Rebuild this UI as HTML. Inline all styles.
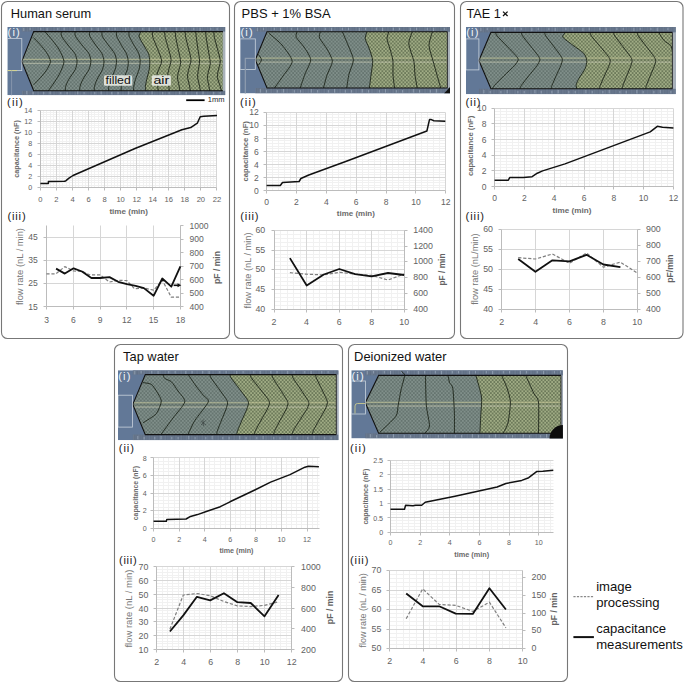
<!DOCTYPE html>
<html><head><meta charset="utf-8"><title>figure</title>
<style>html,body{margin:0;padding:0;background:#fff;}svg{display:block;}</style>
</head><body>
<svg width="685" height="683" viewBox="0 0 685 683" font-family='"Liberation Sans", sans-serif'>
<defs>
<pattern id="dotF" width="3.5" height="3.7" patternUnits="userSpaceOnUse"><rect width="3.5" height="3.7" fill="#788782"/><circle cx="0.875" cy="0.925" r="0.7" fill="#4f5d59"/><circle cx="2.625" cy="2.775" r="0.7" fill="#4f5d59"/><circle cx="2.625" cy="0.925" r="0.6" fill="#8e9c98"/><circle cx="0.875" cy="2.775" r="0.6" fill="#8e9c98"/></pattern>
<pattern id="dotA" width="3.5" height="3.7" patternUnits="userSpaceOnUse"><rect width="3.5" height="3.7" fill="#9aa67f"/><circle cx="0.875" cy="0.925" r="0.72" fill="#34422a"/><circle cx="2.625" cy="2.775" r="0.72" fill="#34422a"/><circle cx="2.625" cy="0.925" r="0.6" fill="#aab690"/><circle cx="0.875" cy="2.775" r="0.6" fill="#aab690"/></pattern>
<pattern id="bandS" width="5.3" height="6" patternUnits="userSpaceOnUse"><rect x="0.6" width="0.7" height="6" fill="#a4b0c0" opacity="0.35"/><rect x="3.2" width="0.6" height="6" fill="#a4b0c0" opacity="0.22"/></pattern>
</defs>
<rect width="685" height="683" fill="#fff"/>
<rect x="1.5" y="1.5" width="228" height="337" rx="6" ry="6" fill="none" stroke="#777" stroke-width="1.1"/>
<rect x="234.5" y="1.5" width="220" height="337" rx="6" ry="6" fill="none" stroke="#777" stroke-width="1.1"/>
<rect x="460.5" y="1.5" width="222.5" height="337" rx="6" ry="6" fill="none" stroke="#777" stroke-width="1.1"/>
<rect x="114.5" y="344.5" width="228" height="337" rx="6" ry="6" fill="none" stroke="#777" stroke-width="1.1"/>
<rect x="348.5" y="344.5" width="219" height="337" rx="6" ry="6" fill="none" stroke="#777" stroke-width="1.1"/>
<text x="10.8" y="18.2" font-size="12.9" fill="#111" textLength="80.3" lengthAdjust="spacingAndGlyphs" >Human serum</text>
<text x="241.6" y="18.4" font-size="12.9" fill="#111" textLength="89.1" lengthAdjust="spacingAndGlyphs" >PBS + 1% BSA</text>
<text x="466.4" y="18.1" font-size="12.9" fill="#111" textLength="34.4" lengthAdjust="spacingAndGlyphs" >TAE 1</text>
<text x="123.1" y="360.9" font-size="12.9" fill="#111" textLength="55.7" lengthAdjust="spacingAndGlyphs" >Tap water</text>
<text x="354.1" y="361.2" font-size="12.9" fill="#111" textLength="92.5" lengthAdjust="spacingAndGlyphs" >Deionized water</text>
<path d="M503,11.6 L507.6,16 M507.6,11.6 L503,16" stroke="#111" stroke-width="1.3"/>
<clipPath id="clipI0"><rect x="7.3" y="26.9" width="218.1" height="68.3"/></clipPath>
<g clip-path="url(#clipI0)">
<rect x="7.3" y="26.9" width="218.1" height="68.3" fill="#627897"/>
<rect x="21.8" y="26.9" width="203.6" height="4.7" fill="#617086"/>
<rect x="21.8" y="90.8" width="203.6" height="4.4" fill="#617086"/>
<rect x="21.8" y="26.9" width="203.6" height="4.7" fill="url(#bandS)"/>
<rect x="21.8" y="90.8" width="203.6" height="4.4" fill="url(#bandS)"/>
<path d="M23.8,27.7v3.5M26.8,94.4v-3.5M30.1,27.7v2.5M33.1,94.4v-2.5M40.8,27.7v2.5M43.8,94.4v-2.5M47.1,27.7v3.5M50.1,94.4v-3.5M57.8,27.7v2.5M60.8,94.4v-2.5M64.1,27.7v2.5M67.1,94.4v-2.5M74.8,27.7v3.5M77.8,94.4v-3.5M81.1,27.7v2.5M84.1,94.4v-2.5M91.8,27.7v2.5M94.8,94.4v-2.5M98.1,27.7v3.5M101.1,94.4v-3.5M108.8,27.7v2.5M111.8,94.4v-2.5M115.1,27.7v2.5M118.1,94.4v-2.5M125.8,27.7v3.5M128.8,94.4v-3.5M132.1,27.7v2.5M135.1,94.4v-2.5M142.8,27.7v2.5M145.8,94.4v-2.5M149.1,27.7v3.5M152.1,94.4v-3.5M159.8,27.7v2.5M162.8,94.4v-2.5M166.1,27.7v2.5M169.1,94.4v-2.5M176.8,27.7v3.5M179.8,94.4v-3.5M183.1,27.7v2.5M186.1,94.4v-2.5M193.8,27.7v2.5M196.8,94.4v-2.5M200.1,27.7v3.5M203.1,94.4v-3.5M210.8,27.7v2.5M213.8,94.4v-2.5M217.1,27.7v2.5M220.1,94.4v-2.5" stroke="#9aa8ba" stroke-width="0.8" fill="none"/>
<polygon points="21.8,61.4 33.7,31.6 222.9,31.6 222.9,90.8 33.7,90.8" fill="url(#dotA)"/>
<polygon points="21.8,61.4 33.7,31.6 141,31.6 138.98,36.37 143.6,45.01 148.57,53.65 149.8,61.4 149.18,69.63 146.7,79.63 145.43,86.39 145.9,90.8 33.7,90.8" fill="url(#dotF)"/>
<rect x="21.8" y="59.3" width="201.1" height="4" fill="#55604f" opacity="0.18"/>
<line x1="21.8" y1="59.3" x2="222.9" y2="59.3" stroke="#d6d6a4" stroke-width="0.8" opacity="0.85"/>
<line x1="21.8" y1="63.3" x2="222.9" y2="63.3" stroke="#d2d3bb" stroke-width="0.8" opacity="0.85"/>
<path d="M33.4,37.5 C34.2,38.34 38.72,42.94 40.24,44.67 C41.76,46.4 45.2,50.37 46.4,52.32 C47.59,54.27 50.49,59.31 50.5,61.4 C50.51,63.49 47.64,68.35 46.47,70.25 C45.29,72.16 41.91,76.02 40.42,77.71 C38.93,79.4 34.48,83.88 33.7,84.7" fill="none" stroke="#1c2418" stroke-width="0.9"/>
<path d="M45,31.6 C45.89,32.64 50.92,38.38 52.6,40.54 C54.28,42.7 58.11,47.64 59.44,50.08 C60.77,52.51 63.91,58.78 64,61.4 C64.09,64.02 61.33,70.17 60.23,72.57 C59.13,74.97 55.97,79.85 54.58,81.98 C53.19,84.11 49.03,89.77 48.3,90.8" fill="none" stroke="#1c2418" stroke-width="0.9"/>
<path d="M61.3,31.6 C61.34,32.16 60.84,34.8 61.62,36.37 C62.39,37.93 66.39,42.99 67.94,45.01 C69.48,47.03 73.82,51.74 74.89,53.65 C75.96,55.56 77.06,59.54 77.1,61.4 C77.14,63.26 76.2,67.51 75.21,69.63 C74.22,71.76 69.72,77.67 68.6,79.63 C67.49,81.58 66.04,85.09 65.65,86.39 C65.27,87.69 65.34,90.29 65.3,90.8" fill="none" stroke="#1c2418" stroke-width="0.9"/>
<path d="M75.1,31.6 C75.14,32.15 74.64,34.74 75.42,36.27 C76.19,37.8 80.19,42.76 81.74,44.74 C83.28,46.72 87.62,51.33 88.69,53.21 C89.76,55.08 90.85,58.93 90.9,60.8 C90.95,62.67 90.05,67.03 89.11,69.2 C88.17,71.37 83.89,77.41 82.84,79.4 C81.78,81.4 80.4,84.97 80.04,86.3 C79.67,87.63 79.74,90.27 79.7,90.8" fill="none" stroke="#1c2418" stroke-width="0.9"/>
<path d="M89.6,31.6 C89.63,32.16 89.18,34.8 89.89,36.37 C90.59,37.93 94.24,42.99 95.65,45.01 C97.06,47.03 101.01,51.74 101.98,53.65 C102.96,55.56 103.95,59.54 104,61.4 C104.05,63.26 103.26,67.51 102.43,69.63 C101.61,71.76 97.87,77.67 96.94,79.63 C96.02,81.58 94.81,85.09 94.49,86.39 C94.17,87.69 94.23,90.29 94.2,90.8" fill="none" stroke="#1c2418" stroke-width="0.9"/>
<path d="M102,31.6 C102.03,32.15 101.58,34.74 102.29,36.27 C103,37.8 106.67,42.76 108.09,44.74 C109.51,46.72 113.49,51.33 114.47,53.21 C115.45,55.08 116.41,58.93 116.5,60.8 C116.59,62.67 115.9,67.03 115.24,69.2 C114.57,71.37 111.56,77.41 110.81,79.4 C110.07,81.4 109.1,84.97 108.84,86.3 C108.58,87.63 108.63,90.27 108.6,90.8" fill="none" stroke="#1c2418" stroke-width="0.9"/>
<path d="M116.5,31.6 C116.53,32.17 116.16,34.88 116.74,36.48 C117.31,38.08 120.3,43.26 121.46,45.33 C122.61,47.39 125.85,52.21 126.65,54.17 C127.45,56.13 128.24,60.24 128.3,62.1 C128.36,63.96 127.75,68.06 127.15,70.14 C126.54,72.21 123.8,77.99 123.12,79.89 C122.44,81.8 121.55,85.22 121.32,86.5 C121.08,87.77 121.13,90.3 121.1,90.8" fill="none" stroke="#1c2418" stroke-width="0.9"/>
<path d="M129,31.6 C129.03,32.15 128.68,34.74 129.22,36.27 C129.77,37.8 132.61,42.76 133.7,44.74 C134.8,46.72 137.87,51.33 138.63,53.21 C139.39,55.08 140.14,58.93 140.2,60.8 C140.26,62.67 139.7,67.03 139.14,69.2 C138.59,71.37 136.07,77.41 135.45,79.4 C134.82,81.4 134.01,84.97 133.8,86.3 C133.58,87.63 133.62,90.27 133.6,90.8" fill="none" stroke="#1c2418" stroke-width="0.9"/>
<path d="M152.3,31.6 C152.37,32.29 152.3,35.49 152.9,37.48 C153.5,39.47 156.44,45.91 157.47,48.65 C158.5,51.4 161.65,58.34 161.7,61 C161.75,63.66 158.47,69.52 157.88,71.43 C157.28,73.34 156.64,75.83 156.6,77.39 C156.56,78.95 157.37,83.28 157.56,84.84 C157.75,86.4 158.13,90.1 158.2,90.8" fill="none" stroke="#1c2418" stroke-width="0.9"/>
<path d="M164.6,31.6 C164.67,32.26 164.78,35.33 165.2,37.24 C165.62,39.15 167.49,45.32 168.17,47.96 C168.86,50.59 171.06,57.15 171.1,59.8 C171.13,62.45 168.88,68.66 168.47,70.65 C168.07,72.64 167.58,75.22 167.6,76.85 C167.62,78.48 168.42,82.97 168.62,84.6 C168.82,86.23 169.22,90.08 169.3,90.8" fill="none" stroke="#1c2418" stroke-width="0.9"/>
<path d="M175.2,31.6 C175.27,32.31 175.45,35.65 175.8,37.72 C176.15,39.79 177.65,46.49 178.22,49.35 C178.8,52.2 180.69,59.53 180.7,62.2 C180.71,64.87 178.67,70.37 178.3,72.21 C177.93,74.05 177.43,76.43 177.5,77.93 C177.57,79.43 178.66,83.58 178.94,85.08 C179.22,86.58 179.79,90.13 179.9,90.8" fill="none" stroke="#1c2418" stroke-width="0.9"/>
<path d="M185.1,31.6 C185.17,32.26 185.32,35.33 185.7,37.24 C186.08,39.15 187.73,45.32 188.34,47.96 C188.96,50.59 191,57.15 191,59.8 C191,62.45 188.78,68.66 188.38,70.65 C187.97,72.64 187.4,75.22 187.5,76.85 C187.6,78.48 188.9,82.97 189.24,84.6 C189.58,86.23 190.26,90.08 190.4,90.8" fill="none" stroke="#1c2418" stroke-width="0.9"/>
<path d="M195.7,31.6 C195.77,32.29 196.05,35.49 196.3,37.48 C196.55,39.47 197.46,45.91 197.84,48.65 C198.23,51.4 199.57,58.34 199.6,61 C199.63,63.66 198.33,69.52 198.1,71.43 C197.87,73.34 197.46,75.83 197.6,77.39 C197.74,78.95 198.95,83.28 199.28,84.84 C199.61,86.4 200.27,90.1 200.4,90.8" fill="none" stroke="#1c2418" stroke-width="0.9"/>
<path d="M205.6,31.6 C205.67,32.33 205.9,35.76 206.2,37.88 C206.5,40 207.71,46.88 208.19,49.81 C208.66,52.74 210.31,60.33 210.3,63 C210.29,65.67 208.46,70.95 208.12,72.73 C207.79,74.51 207.32,76.83 207.4,78.29 C207.48,79.75 208.51,83.78 208.78,85.24 C209.05,86.7 209.59,90.15 209.7,90.8" fill="none" stroke="#1c2418" stroke-width="0.9"/>
<path d="M213.8,31.6 C213.87,32.29 213.98,35.49 214.4,37.48 C214.82,39.47 216.69,45.91 217.38,48.65 C218.06,51.4 220.22,58.34 220.3,61 C220.38,63.66 218.4,69.52 218.05,71.43 C217.7,73.34 217.1,75.83 217.3,77.39 C217.5,78.95 219.28,83.28 219.76,84.84 C220.24,86.4 221.21,90.1 221.4,90.8" fill="none" stroke="#1c2418" stroke-width="0.9"/>
<path d="M141,31.6 C140.76,32.16 138.67,34.8 138.98,36.37 C139.28,37.93 142.48,42.99 143.6,45.01 C144.72,47.03 147.84,51.74 148.57,53.65 C149.29,55.56 149.73,59.54 149.8,61.4 C149.87,63.26 149.54,67.51 149.18,69.63 C148.81,71.76 147.14,77.67 146.7,79.63 C146.26,81.58 145.53,85.09 145.43,86.39 C145.34,87.69 145.85,90.29 145.9,90.8" fill="none" stroke="#1c2418" stroke-width="0.9"/>
<rect x="222.9" y="31.6" width="2.5" height="59.2" fill="#a9b1b9"/>
<polyline points="222.9,31.6 33.7,31.6 21.8,61.4 33.7,90.8 222.9,90.8" fill="none" stroke="#111" stroke-width="1.1"/>
<rect x="7.3" y="38.6" width="14.5" height="32" fill="none" stroke="#c9d2dd" stroke-width="0.8"/>
<line x1="7.3" y1="70.6" x2="17" y2="70.6" stroke="#d6d690" stroke-width="1"/>
<path d="M11.6,70.6 V96" stroke="#8696ad" stroke-width="1"/>
</g>
<text x="7.52" y="36.45" font-size="11.2" fill="#eef2f8" textLength="12.26" lengthAdjust="spacing" >(i)</text>
<clipPath id="clipI1"><rect x="240.1" y="26.9" width="209.9" height="66.5"/></clipPath>
<g clip-path="url(#clipI1)">
<rect x="240.1" y="26.9" width="209.9" height="66.5" fill="#627897"/>
<rect x="255.3" y="26.9" width="194.7" height="4.9" fill="#617086"/>
<rect x="255.3" y="88" width="194.7" height="5.4" fill="#617086"/>
<rect x="255.3" y="26.9" width="194.7" height="4.9" fill="url(#bandS)"/>
<rect x="255.3" y="88" width="194.7" height="5.4" fill="url(#bandS)"/>
<path d="M257.3,27.7v3.5M260.3,92.6v-3.5M263.6,27.7v2.5M266.6,92.6v-2.5M274.3,27.7v2.5M277.3,92.6v-2.5M280.6,27.7v3.5M283.6,92.6v-3.5M291.3,27.7v2.5M294.3,92.6v-2.5M297.6,27.7v2.5M300.6,92.6v-2.5M308.3,27.7v3.5M311.3,92.6v-3.5M314.6,27.7v2.5M317.6,92.6v-2.5M325.3,27.7v2.5M328.3,92.6v-2.5M331.6,27.7v3.5M334.6,92.6v-3.5M342.3,27.7v2.5M345.3,92.6v-2.5M348.6,27.7v2.5M351.6,92.6v-2.5M359.3,27.7v3.5M362.3,92.6v-3.5M365.6,27.7v2.5M368.6,92.6v-2.5M376.3,27.7v2.5M379.3,92.6v-2.5M382.6,27.7v3.5M385.6,92.6v-3.5M393.3,27.7v2.5M396.3,92.6v-2.5M399.6,27.7v2.5M402.6,92.6v-2.5M410.3,27.7v3.5M413.3,92.6v-3.5M416.6,27.7v2.5M419.6,92.6v-2.5M427.3,27.7v2.5M430.3,92.6v-2.5M433.6,27.7v3.5M436.6,92.6v-3.5M444.3,27.7v2.5M447.3,92.6v-2.5" stroke="#9aa8ba" stroke-width="0.8" fill="none"/>
<polygon points="255.3,59.8 267,31.8 447.4,31.8 447.4,88 267,88" fill="url(#dotA)"/>
<polygon points="255.3,59.8 267,31.8 366.9,32 365.2,38.8 369,48 372.7,60.6 371,75 369.4,88 267,88" fill="url(#dotF)"/>
<rect x="255.3" y="58.1" width="192.1" height="4" fill="#55604f" opacity="0.18"/>
<line x1="255.3" y1="58.1" x2="447.4" y2="58.1" stroke="#d6d6a4" stroke-width="0.8" opacity="0.85"/>
<line x1="255.3" y1="62.1" x2="447.4" y2="62.1" stroke="#d2d3bb" stroke-width="0.8" opacity="0.85"/>
<path d="M258.5,54.5 C258.85,55.12 261.5,58.57 261.5,59.8 C261.5,61.02 258.85,64.39 258.5,65" fill="none" stroke="#1c2418" stroke-width="0.9"/>
<path d="M268.9,33.2 C270.43,34.58 279.28,41.72 282,45 C284.72,48.28 292.08,57.68 292.2,61.3 C292.32,64.92 285.06,72.89 283,76 C280.94,79.11 275.49,86.6 274.5,88" fill="none" stroke="#1c2418" stroke-width="0.9"/>
<path d="M297,31.8 C296.91,32.44 295.38,35.53 296.2,37.3 C297.02,39.07 302.31,44.39 304,47 C305.69,49.61 310.58,56.55 310.7,59.7 C310.82,62.85 306.23,70.7 305,74 C303.77,77.3 300.76,86.37 300.2,88" fill="none" stroke="#1c2418" stroke-width="0.9"/>
<path d="M320.3,31.8 C320.21,32.52 318.72,35.99 319.5,38 C320.28,40.01 325.5,46.28 327,49 C328.5,51.72 332.4,58.27 332.4,61.3 C332.4,64.33 328.04,71.89 327,75 C325.96,78.11 323.91,86.48 323.5,88" fill="none" stroke="#1c2418" stroke-width="0.9"/>
<path d="M342.5,32 C343.14,33.52 346.73,41.76 348,45 C349.27,48.24 353.28,56.42 353.4,59.8 C353.52,63.18 349.78,70.71 349,74 C348.22,77.29 346.97,86.37 346.7,88" fill="none" stroke="#1c2418" stroke-width="0.9"/>
<path d="M388.7,32 C388.5,32.79 386.85,36.82 387,38.8 C387.15,40.78 389.31,46.46 390,49 C390.69,51.54 392.55,57.57 392.9,60.6 C393.25,63.63 392.8,71.8 393,75 C393.2,78.2 394.41,86.48 394.6,88" fill="none" stroke="#1c2418" stroke-width="0.9"/>
<path d="M412.2,32 C411.8,33.38 408.6,40.37 408.8,43.8 C409,47.23 413.18,57.76 413.9,61.4 C414.62,65.04 414.62,71.9 415,75 C415.38,78.1 416.94,86.48 417.2,88" fill="none" stroke="#1c2418" stroke-width="0.9"/>
<path d="M432.3,32 C431.92,33.58 428.89,42.07 429,45.5 C429.11,48.93 432.27,57.96 433.2,61.4 C434.13,64.84 436.12,71.9 437,75 C437.88,78.1 440.27,86.48 440.7,88" fill="none" stroke="#1c2418" stroke-width="0.9"/>
<path d="M366.9,32 C366.7,32.79 364.95,36.93 365.2,38.8 C365.44,40.67 368.12,45.46 369,48 C369.88,50.54 372.47,57.45 372.7,60.6 C372.93,63.75 371.38,71.8 371,75 C370.62,78.2 369.59,86.48 369.4,88" fill="none" stroke="#1c2418" stroke-width="0.9"/>
<rect x="447.4" y="31.8" width="2.6" height="56.2" fill="#a9b1b9"/>
<polyline points="447.4,31.8 267,31.8 255.3,59.8 267,88 447.4,88" fill="none" stroke="#111" stroke-width="1.1"/>
<line x1="447.4" y1="31.8" x2="447.4" y2="88" stroke="#222" stroke-width="0.9"/>
<rect x="240" y="38.9" width="15.3" height="30.5" fill="none" stroke="#c9d2dd" stroke-width="0.8"/>
<path d="M255.3,58.3 L245.3,58.3 L245.3,94" fill="none" stroke="#8f9db0" stroke-width="1.2"/>
<polygon points="444,93.4 450,87 450,93.4" fill="#111"/>
</g>
<text x="240.42" y="36.35" font-size="11.2" fill="#eef2f8" textLength="12.26" lengthAdjust="spacing" >(i)</text>
<clipPath id="clipI2"><rect x="466" y="26.9" width="209.8" height="67.3"/></clipPath>
<g clip-path="url(#clipI2)">
<rect x="466" y="26.9" width="209.8" height="67.3" fill="#627897"/>
<rect x="478.9" y="26.9" width="196.9" height="5.5" fill="#617086"/>
<rect x="478.9" y="88.8" width="196.9" height="5.4" fill="#617086"/>
<rect x="478.9" y="26.9" width="196.9" height="5.5" fill="url(#bandS)"/>
<rect x="478.9" y="88.8" width="196.9" height="5.4" fill="url(#bandS)"/>
<path d="M480.9,27.7v3.5M483.9,93.4v-3.5M487.2,27.7v2.5M490.2,93.4v-2.5M497.9,27.7v2.5M500.9,93.4v-2.5M504.2,27.7v3.5M507.2,93.4v-3.5M514.9,27.7v2.5M517.9,93.4v-2.5M521.2,27.7v2.5M524.2,93.4v-2.5M531.9,27.7v3.5M534.9,93.4v-3.5M538.2,27.7v2.5M541.2,93.4v-2.5M548.9,27.7v2.5M551.9,93.4v-2.5M555.2,27.7v3.5M558.2,93.4v-3.5M565.9,27.7v2.5M568.9,93.4v-2.5M572.2,27.7v2.5M575.2,93.4v-2.5M582.9,27.7v3.5M585.9,93.4v-3.5M589.2,27.7v2.5M592.2,93.4v-2.5M599.9,27.7v2.5M602.9,93.4v-2.5M606.2,27.7v3.5M609.2,93.4v-3.5M616.9,27.7v2.5M619.9,93.4v-2.5M623.2,27.7v2.5M626.2,93.4v-2.5M633.9,27.7v3.5M636.9,93.4v-3.5M640.2,27.7v2.5M643.2,93.4v-2.5M650.9,27.7v2.5M653.9,93.4v-2.5M657.2,27.7v3.5M660.2,93.4v-3.5M667.9,27.7v2.5M670.9,93.4v-2.5" stroke="#9aa8ba" stroke-width="0.8" fill="none"/>
<polygon points="478.9,60.5 490.9,32.4 672.4,32.4 672.4,88.8 490.9,88.8" fill="url(#dotA)"/>
<polygon points="478.9,60.5 490.9,32.4 565.5,32.6 562.73,37.08 572.85,45.2 583.82,53.32 586.8,60.6 585.2,68.5 579.15,78.08 576.2,84.57 576.8,88.8 490.9,88.8" fill="url(#dotF)"/>
<rect x="478.9" y="58.1" width="193.5" height="4" fill="#55604f" opacity="0.18"/>
<line x1="478.9" y1="58.1" x2="672.4" y2="58.1" stroke="#d6d6a4" stroke-width="0.8" opacity="0.85"/>
<line x1="478.9" y1="62.1" x2="672.4" y2="62.1" stroke="#d2d3bb" stroke-width="0.8" opacity="0.85"/>
<path d="M495.7,32.6 C495.86,32.98 495.74,34.27 497.05,35.85 C498.36,37.43 504.75,43.84 506.95,46.15 C509.16,48.46 514.64,54.05 515.95,55.64 C517.26,57.22 518.36,58.55 518.2,59.7 C518.04,60.85 516.25,63.65 514.6,65.52 C512.95,67.39 506.4,73.4 504.06,75.7 C501.73,78.01 495.91,83.78 494.56,85.31 C493.21,86.84 492.74,88.39 492.5,88.8" fill="none" stroke="#1c2418" stroke-width="0.9"/>
<path d="M521.4,32.6 C521.53,32.98 521.43,34.27 522.51,35.85 C523.59,37.43 528.84,43.84 530.65,46.15 C532.46,48.46 536.97,54.05 538.05,55.64 C539.13,57.22 540.01,58.55 539.9,59.7 C539.79,60.85 538.38,63.65 537.09,65.52 C535.8,67.39 530.67,73.4 528.84,75.7 C527.02,78.01 522.46,83.78 521.41,85.31 C520.35,86.84 519.99,88.39 519.8,88.8" fill="none" stroke="#1c2418" stroke-width="0.9"/>
<path d="M544.7,32.6 C544.82,32.98 544.73,34.27 545.76,35.85 C546.79,37.43 551.82,43.84 553.55,46.15 C555.28,48.46 559.6,54.05 560.63,55.64 C561.66,57.22 562.38,58.55 562.4,59.7 C562.42,60.85 561.54,63.65 560.82,65.52 C560.09,67.39 557.21,73.4 556.18,75.7 C555.16,78.01 552.6,83.78 552,85.31 C551.41,86.84 551.21,88.39 551.1,88.8" fill="none" stroke="#1c2418" stroke-width="0.9"/>
<path d="M590.2,32.6 C590.34,32.99 590.23,34.33 591.41,35.96 C592.58,37.59 598.28,44.22 600.25,46.6 C602.22,48.98 607.12,54.77 608.29,56.4 C609.46,58.03 610.24,59.45 610.3,60.6 C610.36,61.75 609.47,64.43 608.77,66.24 C608.07,68.05 605.3,73.87 604.3,76.11 C603.31,78.35 600.84,83.94 600.27,85.42 C599.7,86.9 599.5,88.41 599.4,88.8" fill="none" stroke="#1c2418" stroke-width="0.9"/>
<path d="M613.7,32.6 C613.83,32.99 613.73,34.33 614.8,35.96 C615.88,37.59 621.1,44.22 622.9,46.6 C624.7,48.98 629.19,54.77 630.26,56.4 C631.33,58.03 632.05,59.45 632.1,60.6 C632.15,61.75 631.34,64.43 630.7,66.24 C630.06,68.05 627.51,73.87 626.6,76.11 C625.69,78.35 623.42,83.94 622.9,85.42 C622.38,86.9 622.19,88.41 622.1,88.8" fill="none" stroke="#1c2418" stroke-width="0.9"/>
<path d="M637.2,32.6 C637.33,32.99 637.23,34.33 638.31,35.96 C639.39,37.59 644.64,44.22 646.45,46.6 C648.26,48.98 652.77,54.77 653.85,56.4 C654.93,58.03 655.65,59.45 655.7,60.6 C655.75,61.75 654.93,64.43 654.29,66.24 C653.64,68.05 651.06,73.87 650.14,76.11 C649.23,78.35 646.94,83.94 646.41,85.42 C645.88,86.9 645.69,88.41 645.6,88.8" fill="none" stroke="#1c2418" stroke-width="0.9"/>
<path d="M659,32.9 C659.58,33.79 662.62,39.03 664,40.5 C665.38,41.97 669.87,44.39 670.8,45.5 C671.73,46.61 671.86,49.48 672,50" fill="none" stroke="#1c2418" stroke-width="0.9"/>
<path d="M565.5,32.6 C565.18,33.12 561.87,35.61 562.73,37.08 C563.59,38.55 570.39,43.31 572.85,45.2 C575.31,47.09 582.19,51.52 583.82,53.32 C585.45,55.12 586.64,58.83 586.8,60.6 C586.96,62.37 586.09,66.46 585.2,68.5 C584.31,70.54 580.2,76.21 579.15,78.08 C578.1,79.96 576.47,83.32 576.2,84.57 C575.93,85.82 576.73,88.31 576.8,88.8" fill="none" stroke="#1c2418" stroke-width="0.9"/>
<rect x="672.4" y="32.4" width="3.4" height="56.4" fill="#a9b1b9"/>
<polyline points="672.4,32.4 490.9,32.4 478.9,60.5 490.9,88.8 672.4,88.8" fill="none" stroke="#111" stroke-width="1.1"/>
<line x1="672.4" y1="32.4" x2="672.4" y2="88.8" stroke="#222" stroke-width="0.9"/>
<rect x="466" y="38.9" width="12.9" height="31" fill="none" stroke="#c9d2dd" stroke-width="0.8"/>
</g>
<text x="466.22" y="36.35" font-size="11.2" fill="#eef2f8" textLength="12.26" lengthAdjust="spacing" >(i)</text>
<clipPath id="clipI3"><rect x="118" y="370.2" width="220.6" height="70"/></clipPath>
<g clip-path="url(#clipI3)">
<rect x="118" y="370.2" width="220.6" height="70" fill="#627897"/>
<rect x="132.8" y="370.2" width="205.8" height="4.4" fill="#617086"/>
<rect x="132.8" y="434.6" width="205.8" height="5.6" fill="#617086"/>
<rect x="132.8" y="370.2" width="205.8" height="4.4" fill="url(#bandS)"/>
<rect x="132.8" y="434.6" width="205.8" height="5.6" fill="url(#bandS)"/>
<path d="M134.8,371v3.5M137.8,439.4v-3.5M141.1,371v2.5M144.1,439.4v-2.5M151.8,371v2.5M154.8,439.4v-2.5M158.1,371v3.5M161.1,439.4v-3.5M168.8,371v2.5M171.8,439.4v-2.5M175.1,371v2.5M178.1,439.4v-2.5M185.8,371v3.5M188.8,439.4v-3.5M192.1,371v2.5M195.1,439.4v-2.5M202.8,371v2.5M205.8,439.4v-2.5M209.1,371v3.5M212.1,439.4v-3.5M219.8,371v2.5M222.8,439.4v-2.5M226.1,371v2.5M229.1,439.4v-2.5M236.8,371v3.5M239.8,439.4v-3.5M243.1,371v2.5M246.1,439.4v-2.5M253.8,371v2.5M256.8,439.4v-2.5M260.1,371v3.5M263.1,439.4v-3.5M270.8,371v2.5M273.8,439.4v-2.5M277.1,371v2.5M280.1,439.4v-2.5M287.8,371v3.5M290.8,439.4v-3.5M294.1,371v2.5M297.1,439.4v-2.5M304.8,371v2.5M307.8,439.4v-2.5M311.1,371v3.5M314.1,439.4v-3.5M321.8,371v2.5M324.8,439.4v-2.5M328.1,371v2.5M331.1,439.4v-2.5" stroke="#9aa8ba" stroke-width="0.8" fill="none"/>
<polygon points="132.8,404.4 145.3,374.6 336.3,374.6 336.3,434.6 145.3,434.6" fill="url(#dotA)"/>
<polygon points="132.8,404.4 145.3,374.6 230,374.6 231.11,377.98 239.25,388.7 246.65,398.57 248.5,402.8 246.86,409.04 242.06,419.96 237.74,430.26 236.8,434 145.3,434.6" fill="url(#dotF)"/>
<rect x="132.8" y="402.8" width="203.5" height="4.2" fill="#55604f" opacity="0.18"/>
<line x1="132.8" y1="402.8" x2="336.3" y2="402.8" stroke="#d6d6a4" stroke-width="0.8" opacity="0.85"/>
<line x1="132.8" y1="407" x2="336.3" y2="407" stroke="#d2d3bb" stroke-width="0.8" opacity="0.85"/>
<path d="M142.9,382.6 C143.88,382.8 149.66,383.2 151.3,384.3 C152.95,385.4 155.83,390.04 157,392 C158.17,393.96 161.38,398.57 161.3,401.1 C161.22,403.63 158.45,411.16 156.3,413.7 C154.15,416.24 144.46,421.83 142.9,422.9" fill="none" stroke="#1c2418" stroke-width="0.9"/>
<path d="M163,374.5 C163.2,374.95 163.72,377.55 164.7,378.4 C165.68,379.25 169.85,380.33 171.4,381.8 C172.95,383.27 176.44,388.66 178,391 C179.56,393.34 185.38,398.75 184.8,401.9 C184.22,405.05 175.74,414.25 173,418 C170.26,421.75 162.67,432.13 161.3,434" fill="none" stroke="#1c2418" stroke-width="0.9"/>
<path d="M188.2,374.5 C189.11,375.84 194.24,383.58 196,386 C197.76,388.42 201.87,393.34 203.3,395.2 C204.74,397.06 209.28,398.96 208.3,401.9 C207.32,404.84 197.25,416.65 194.9,420.4 C192.56,424.14 188.98,432.41 188.2,434" fill="none" stroke="#1c2418" stroke-width="0.9"/>
<path d="M210,374.6 C210.12,374.99 210.03,376.34 211.06,377.98 C212.08,379.63 217.08,386.3 218.8,388.7 C220.52,391.1 224.81,396.93 225.84,398.57 C226.87,400.21 227.57,401.58 227.6,402.8 C227.63,404.02 226.77,407.04 226.07,409.04 C225.37,411.04 222.6,417.48 221.6,419.96 C220.61,422.44 218.14,428.62 217.57,430.26 C217,431.89 216.8,433.56 216.7,434" fill="none" stroke="#1c2418" stroke-width="0.9"/>
<path d="M250.2,374.6 C250.34,374.99 250.23,376.34 251.36,377.98 C252.48,379.63 257.96,386.3 259.85,388.7 C261.74,391.1 266.44,396.93 267.57,398.57 C268.7,400.21 269.52,401.58 269.5,402.8 C269.48,404.02 268.35,407.04 267.39,409.04 C266.42,411.04 262.57,417.48 261.19,419.96 C259.82,422.44 256.4,428.62 255.61,430.26 C254.82,431.89 254.54,433.56 254.4,434" fill="none" stroke="#1c2418" stroke-width="0.9"/>
<path d="M272,374.6 C272.11,375.01 272.03,376.39 272.96,378.08 C273.89,379.77 278.43,386.63 280,389.1 C281.57,391.57 285.47,397.56 286.4,399.25 C287.33,400.94 288.05,402.38 288,403.6 C287.95,404.82 286.92,407.73 286,409.68 C285.08,411.63 281.44,417.91 280.13,420.32 C278.83,422.73 275.59,428.76 274.84,430.35 C274.09,431.95 273.83,433.57 273.7,434" fill="none" stroke="#1c2418" stroke-width="0.9"/>
<path d="M292.1,374.6 C292.22,375.01 292.13,376.39 293.11,378.08 C294.09,379.77 298.85,386.63 300.5,389.1 C302.15,391.57 306.24,397.56 307.22,399.25 C308.2,400.94 308.98,402.38 308.9,403.6 C308.82,404.82 307.63,407.73 306.55,409.68 C305.47,411.63 301.19,417.91 299.66,420.32 C298.13,422.73 294.33,428.76 293.44,430.35 C292.56,431.95 292.26,433.57 292.1,434" fill="none" stroke="#1c2418" stroke-width="0.9"/>
<path d="M315.6,374.6 C315.68,374.99 315.62,376.34 316.31,377.98 C317,379.63 320.34,386.3 321.5,388.7 C322.66,391.1 325.53,396.93 326.22,398.57 C326.91,400.21 327.51,401.58 327.4,402.8 C327.29,404.02 326.25,407.04 325.29,409.04 C324.32,411.04 320.47,417.48 319.09,419.96 C317.72,422.44 314.3,428.62 313.51,430.26 C312.72,431.89 312.44,433.56 312.3,434" fill="none" stroke="#1c2418" stroke-width="0.9"/>
<path d="M230,374.6 C230.13,374.99 230.03,376.34 231.11,377.98 C232.19,379.63 237.44,386.3 239.25,388.7 C241.06,391.1 245.57,396.93 246.65,398.57 C247.73,400.21 248.48,401.58 248.5,402.8 C248.52,404.02 247.61,407.04 246.86,409.04 C246.11,411.04 243.13,417.48 242.06,419.96 C241,422.44 238.35,428.62 237.74,430.26 C237.12,431.89 236.91,433.56 236.8,434" fill="none" stroke="#1c2418" stroke-width="0.9"/>
<rect x="336.3" y="374.6" width="2.3" height="60" fill="#a9b1b9"/>
<polyline points="336.3,374.6 145.3,374.6 132.8,404.4 145.3,434.6 336.3,434.6" fill="none" stroke="#111" stroke-width="1.1"/>
<line x1="336.3" y1="374.6" x2="336.3" y2="434.6" stroke="#222" stroke-width="0.9"/>
<rect x="118" y="395.2" width="14.5" height="31.9" fill="none" stroke="#c9d2dd" stroke-width="0.8"/>
<path d="M200.5,421 L206,425 M201,425 L205.5,420.5 M203,419.5 L203.5,426" stroke="#2a3030" stroke-width="0.7" opacity="0.7"/>
</g>
<text x="118.22" y="379.75" font-size="11.2" fill="#eef2f8" textLength="12.26" lengthAdjust="spacing" >(i)</text>
<clipPath id="clipI4"><rect x="351.3" y="370.2" width="211.6" height="68.2"/></clipPath>
<g clip-path="url(#clipI4)">
<rect x="351.3" y="370.2" width="211.6" height="68.2" fill="#627897"/>
<rect x="365.3" y="370.2" width="197.6" height="5.2" fill="#617086"/>
<rect x="365.3" y="433.3" width="197.6" height="5.1" fill="#617086"/>
<rect x="365.3" y="370.2" width="197.6" height="5.2" fill="url(#bandS)"/>
<rect x="365.3" y="433.3" width="197.6" height="5.1" fill="url(#bandS)"/>
<path d="M367.3,371v3.5M370.3,437.6v-3.5M373.6,371v2.5M376.6,437.6v-2.5M384.3,371v2.5M387.3,437.6v-2.5M390.6,371v3.5M393.6,437.6v-3.5M401.3,371v2.5M404.3,437.6v-2.5M407.6,371v2.5M410.6,437.6v-2.5M418.3,371v3.5M421.3,437.6v-3.5M424.6,371v2.5M427.6,437.6v-2.5M435.3,371v2.5M438.3,437.6v-2.5M441.6,371v3.5M444.6,437.6v-3.5M452.3,371v2.5M455.3,437.6v-2.5M458.6,371v2.5M461.6,437.6v-2.5M469.3,371v3.5M472.3,437.6v-3.5M475.6,371v2.5M478.6,437.6v-2.5M486.3,371v2.5M489.3,437.6v-2.5M492.6,371v3.5M495.6,437.6v-3.5M503.3,371v2.5M506.3,437.6v-2.5M509.6,371v2.5M512.6,437.6v-2.5M520.3,371v3.5M523.3,437.6v-3.5M526.6,371v2.5M529.6,437.6v-2.5M537.3,371v2.5M540.3,437.6v-2.5M543.6,371v3.5M546.6,437.6v-3.5M554.3,371v2.5M557.3,437.6v-2.5M560.6,371v2.5M563.6,437.6v-2.5" stroke="#9aa8ba" stroke-width="0.8" fill="none"/>
<polygon points="365.3,402.7 378.6,375.4 561,375.4 561,433.3 378.6,433.3" fill="url(#dotA)"/>
<polygon points="365.3,402.7 378.6,375.4 475.9,375.4 481.5,397.1 480.7,416.4 479.9,433.3 378.6,433.3" fill="url(#dotF)"/>
<rect x="365.3" y="402.3" width="195.7" height="3.7" fill="#55604f" opacity="0.18"/>
<line x1="365.3" y1="402.3" x2="561" y2="402.3" stroke="#d6d6a4" stroke-width="0.8" opacity="0.85"/>
<line x1="365.3" y1="406" x2="561" y2="406" stroke="#d2d3bb" stroke-width="0.8" opacity="0.85"/>
<path d="M401.4,371.4 C401.77,371.87 404.65,373.23 404.6,375.4 C404.55,377.57 401.75,386.53 401,390 C400.25,393.47 398.81,402.02 398.2,405.1 C397.59,408.18 397.96,413.21 395.8,416.4 C393.64,419.58 381.58,430.53 379.7,432.4" fill="none" stroke="#1c2418" stroke-width="0.9"/>
<path d="M425.5,375.4 C425.59,378.87 425.83,399.2 426.3,405.1 C426.77,411 429.69,422.71 429.5,426 C429.31,429.29 425.26,432.45 424.7,433.3" fill="none" stroke="#1c2418" stroke-width="0.9"/>
<path d="M448,375.4 C448.19,376.25 449.04,381.19 449.6,382.7 C450.16,384.2 452.24,384.74 452.8,388.3 C453.36,391.86 454.21,407.95 454.4,413.2 C454.59,418.45 454.4,430.95 454.4,433.3" fill="none" stroke="#1c2418" stroke-width="0.9"/>
<path d="M501.6,375.4 C502.23,376.87 505.97,384.9 507,388 C508.03,391.1 510.28,397.94 510.4,402 C510.52,406.06 508.84,419.15 508,422.8 C507.16,426.45 503.76,432.07 503.2,433.3" fill="none" stroke="#1c2418" stroke-width="0.9"/>
<path d="M525.7,375.4 C526.63,377.46 532.21,390 533.7,393.1 C535.19,396.2 537.94,397.31 538.5,402 C539.06,406.69 538.5,429.65 538.5,433.3" fill="none" stroke="#1c2418" stroke-width="0.9"/>
<path d="M475.9,375.4 C476.55,377.93 480.94,392.32 481.5,397.1 C482.06,401.88 480.89,412.18 480.7,416.4 C480.51,420.62 479.99,431.33 479.9,433.3" fill="none" stroke="#1c2418" stroke-width="0.9"/>
<rect x="561" y="375.4" width="1.9" height="57.9" fill="#a9b1b9"/>
<polyline points="561,375.4 378.6,375.4 365.3,402.7 378.6,433.3 561,433.3" fill="none" stroke="#111" stroke-width="1.1"/>
<line x1="561" y1="375.4" x2="561" y2="433.3" stroke="#222" stroke-width="0.9"/>
<rect x="351.3" y="381" width="14.3" height="33" fill="none" stroke="#c9d2dd" stroke-width="0.8"/>
<path d="M365.3,403.5 L357.5,403.5 Q355,403.5 355,406 L355,413.5" fill="none" stroke="#c9c98f" stroke-width="0.9"/>
<circle cx="563.1" cy="438.7" r="13.6" fill="#0c0c0c"/>
</g>
<text x="351.42" y="379.75" font-size="11.2" fill="#eef2f8" textLength="12.26" lengthAdjust="spacing" >(i)</text>
<rect x="104" y="75.2" width="28.3" height="10.6" rx="1.5" fill="#e6e8e2" opacity="0.92"/>
<text x="105.6" y="83.6" font-size="10" fill="#111" textLength="25.1" lengthAdjust="spacingAndGlyphs" >filled</text>
<rect x="151.8" y="75.2" width="19.1" height="10.6" rx="1.5" fill="#e6e8e2" opacity="0.92"/>
<text x="153.4" y="83.6" font-size="10" fill="#111" textLength="15.9" lengthAdjust="spacingAndGlyphs" >air</text>
<line x1="186.2" y1="100.2" x2="204.6" y2="100.2" stroke="#000" stroke-width="1.8"/>
<text x="207.8" y="102" font-size="6.5" fill="#222" textLength="16.8" lengthAdjust="spacingAndGlyphs" >1mm</text>
<path d="M43.5,110.5V187.5M46.5,110.5V187.5M50.5,110.5V187.5M53.5,110.5V187.5M59.5,110.5V187.5M62.5,110.5V187.5M66.5,110.5V187.5M69.5,110.5V187.5M75.5,110.5V187.5M78.5,110.5V187.5M82.5,110.5V187.5M85.5,110.5V187.5M91.5,110.5V187.5M94.5,110.5V187.5M98.5,110.5V187.5M101.5,110.5V187.5M107.5,110.5V187.5M111.5,110.5V187.5M114.5,110.5V187.5M117.5,110.5V187.5M123.5,110.5V187.5M127.5,110.5V187.5M130.5,110.5V187.5M133.5,110.5V187.5M139.5,110.5V187.5M143.5,110.5V187.5M146.5,110.5V187.5M149.5,110.5V187.5M155.5,110.5V187.5M159.5,110.5V187.5M162.5,110.5V187.5M165.5,110.5V187.5M171.5,110.5V187.5M175.5,110.5V187.5M178.5,110.5V187.5M181.5,110.5V187.5M188.5,110.5V187.5M191.5,110.5V187.5M194.5,110.5V187.5M197.5,110.5V187.5M204.5,110.5V187.5M207.5,110.5V187.5M210.5,110.5V187.5M213.5,110.5V187.5M40.5,185.5H216.5M40.5,182.5H216.5M40.5,180.5H216.5M40.5,178.5H216.5M40.5,174.5H216.5M40.5,171.5H216.5M40.5,169.5H216.5M40.5,167.5H216.5M40.5,163.5H216.5M40.5,160.5H216.5M40.5,158.5H216.5M40.5,156.5H216.5M40.5,152.5H216.5M40.5,149.5H216.5M40.5,147.5H216.5M40.5,145.5H216.5M40.5,141.5H216.5M40.5,138.5H216.5M40.5,136.5H216.5M40.5,134.5H216.5M40.5,130.5H216.5M40.5,127.5H216.5M40.5,125.5H216.5M40.5,123.5H216.5M40.5,119.5H216.5M40.5,116.5H216.5M40.5,114.5H216.5M40.5,112.5H216.5" stroke="#f1f1f1" stroke-width="1" fill="none"/>
<path d="M56.5,110.5V187.5M72.5,110.5V187.5M88.5,110.5V187.5M104.5,110.5V187.5M120.5,110.5V187.5M136.5,110.5V187.5M152.5,110.5V187.5M168.5,110.5V187.5M184.5,110.5V187.5M200.5,110.5V187.5M216.5,110.5V187.5M40.5,176.5H216.5M40.5,165.5H216.5M40.5,154.5H216.5M40.5,143.5H216.5M40.5,132.5H216.5M40.5,121.5H216.5M40.5,110.5H216.5" stroke="#d6d6d6" stroke-width="1" fill="none"/>
<path d="M40.5,110.5V187.5H216.5M37.5,187.5H40.5M37.5,176.5H40.5M37.5,165.5H40.5M37.5,154.5H40.5M37.5,143.5H40.5M37.5,132.5H40.5M37.5,121.5H40.5M37.5,110.5H40.5M40.5,187.5V190.5M56.5,187.5V190.5M72.5,187.5V190.5M88.5,187.5V190.5M104.5,187.5V190.5M120.5,187.5V190.5M136.5,187.5V190.5M152.5,187.5V190.5M168.5,187.5V190.5M184.5,187.5V190.5M200.5,187.5V190.5M216.5,187.5V190.5" stroke="#bcbcbc" stroke-width="1" fill="none"/>
<text x="32.2" y="190" font-size="7.5" fill="#626262" text-anchor="end" textLength="3.96" lengthAdjust="spacingAndGlyphs" >0</text>
<text x="32.2" y="179.01" font-size="7.5" fill="#626262" text-anchor="end" textLength="3.96" lengthAdjust="spacingAndGlyphs" >2</text>
<text x="32.2" y="168.03" font-size="7.5" fill="#626262" text-anchor="end" textLength="3.96" lengthAdjust="spacingAndGlyphs" >4</text>
<text x="32.2" y="157.04" font-size="7.5" fill="#626262" text-anchor="end" textLength="3.96" lengthAdjust="spacingAndGlyphs" >6</text>
<text x="32.2" y="146.06" font-size="7.5" fill="#626262" text-anchor="end" textLength="3.96" lengthAdjust="spacingAndGlyphs" >8</text>
<text x="32.2" y="135.07" font-size="7.5" fill="#626262" text-anchor="end" textLength="7.92" lengthAdjust="spacingAndGlyphs" >10</text>
<text x="32.2" y="124.09" font-size="7.5" fill="#626262" text-anchor="end" textLength="7.92" lengthAdjust="spacingAndGlyphs" >12</text>
<text x="32.2" y="113.1" font-size="7.5" fill="#626262" text-anchor="end" textLength="7.92" lengthAdjust="spacingAndGlyphs" >14</text>
<text x="40.4" y="201.68" font-size="8" fill="#626262" text-anchor="middle" textLength="4.23" lengthAdjust="spacingAndGlyphs" >0</text>
<text x="56.45" y="201.68" font-size="8" fill="#626262" text-anchor="middle" textLength="4.23" lengthAdjust="spacingAndGlyphs" >2</text>
<text x="72.49" y="201.68" font-size="8" fill="#626262" text-anchor="middle" textLength="4.23" lengthAdjust="spacingAndGlyphs" >4</text>
<text x="88.54" y="201.68" font-size="8" fill="#626262" text-anchor="middle" textLength="4.23" lengthAdjust="spacingAndGlyphs" >6</text>
<text x="104.58" y="201.68" font-size="8" fill="#626262" text-anchor="middle" textLength="4.23" lengthAdjust="spacingAndGlyphs" >8</text>
<text x="120.63" y="201.68" font-size="8" fill="#626262" text-anchor="middle" textLength="8.45" lengthAdjust="spacingAndGlyphs" >10</text>
<text x="136.67" y="201.68" font-size="8" fill="#626262" text-anchor="middle" textLength="8.45" lengthAdjust="spacingAndGlyphs" >12</text>
<text x="152.72" y="201.68" font-size="8" fill="#626262" text-anchor="middle" textLength="8.45" lengthAdjust="spacingAndGlyphs" >14</text>
<text x="168.76" y="201.68" font-size="8" fill="#626262" text-anchor="middle" textLength="8.45" lengthAdjust="spacingAndGlyphs" >16</text>
<text x="184.81" y="201.68" font-size="8" fill="#626262" text-anchor="middle" textLength="8.45" lengthAdjust="spacingAndGlyphs" >18</text>
<text x="200.85" y="201.68" font-size="8" fill="#626262" text-anchor="middle" textLength="8.45" lengthAdjust="spacingAndGlyphs" >20</text>
<text x="216.9" y="201.68" font-size="8" fill="#626262" text-anchor="middle" textLength="8.45" lengthAdjust="spacingAndGlyphs" >22</text>
<polyline points="40.4,183.4 48.4,183.4 48.4,181.6 64.2,181.2 65.7,180.9 69,178.2 73,175.5 135,148.5 181.9,129.8 190.7,127.6 197.3,123.2 200.2,116.7 203.8,116.2 217,115.5" fill="none" stroke="#111" stroke-width="1.5" stroke-linejoin="round"/>
<text x="7.12" y="105.75" font-size="11.2" fill="#222" textLength="15.56" lengthAdjust="spacing" >(ii)</text>
<text x="109.4" y="214.2" font-size="7.5" fill="#6a6a6a" font-weight="bold" textLength="38.6" lengthAdjust="spacingAndGlyphs" >time (min)</text>
<text x="18.6" y="148.95" font-size="7.5" fill="#6a6a6a" text-anchor="middle" font-weight="bold" textLength="57.7" lengthAdjust="spacingAndGlyphs" transform="rotate(-90 18.6 148.95)" >capacitance (nF)</text>
<path d="M272.5,112.5V190.5M278.5,112.5V190.5M284.5,112.5V190.5M290.5,112.5V190.5M302.5,112.5V190.5M308.5,112.5V190.5M314.5,112.5V190.5M320.5,112.5V190.5M332.5,112.5V190.5M338.5,112.5V190.5M344.5,112.5V190.5M350.5,112.5V190.5M362.5,112.5V190.5M368.5,112.5V190.5M374.5,112.5V190.5M380.5,112.5V190.5M392.5,112.5V190.5M398.5,112.5V190.5M403.5,112.5V190.5M409.5,112.5V190.5M421.5,112.5V190.5M427.5,112.5V190.5M433.5,112.5V190.5M439.5,112.5V190.5M266.5,187.5H445.5M266.5,185.5H445.5M266.5,182.5H445.5M266.5,180.5H445.5M266.5,174.5H445.5M266.5,172.5H445.5M266.5,169.5H445.5M266.5,167.5H445.5M266.5,161.5H445.5M266.5,159.5H445.5M266.5,156.5H445.5M266.5,153.5H445.5M266.5,148.5H445.5M266.5,146.5H445.5M266.5,143.5H445.5M266.5,140.5H445.5M266.5,135.5H445.5M266.5,133.5H445.5M266.5,130.5H445.5M266.5,127.5H445.5M266.5,122.5H445.5M266.5,120.5H445.5M266.5,117.5H445.5M266.5,114.5H445.5" stroke="#f1f1f1" stroke-width="1" fill="none"/>
<path d="M296.5,112.5V190.5M326.5,112.5V190.5M356.5,112.5V190.5M386.5,112.5V190.5M415.5,112.5V190.5M445.5,112.5V190.5M266.5,177.5H445.5M266.5,164.5H445.5M266.5,151.5H445.5M266.5,138.5H445.5M266.5,125.5H445.5M266.5,112.5H445.5" stroke="#d6d6d6" stroke-width="1" fill="none"/>
<path d="M266.5,112.5V190.5H445.5M263.5,190.5H266.5M263.5,177.5H266.5M263.5,164.5H266.5M263.5,151.5H266.5M263.5,138.5H266.5M263.5,125.5H266.5M263.5,112.5H266.5M266.5,190.5V193.5M296.5,190.5V193.5M326.5,190.5V193.5M356.5,190.5V193.5M386.5,190.5V193.5M415.5,190.5V193.5M445.5,190.5V193.5" stroke="#bcbcbc" stroke-width="1" fill="none"/>
<text x="258.7" y="193.74" font-size="9" fill="#626262" text-anchor="end" textLength="4.75" lengthAdjust="spacingAndGlyphs" >0</text>
<text x="258.7" y="180.69" font-size="9" fill="#626262" text-anchor="end" textLength="4.75" lengthAdjust="spacingAndGlyphs" >2</text>
<text x="258.7" y="167.64" font-size="9" fill="#626262" text-anchor="end" textLength="4.75" lengthAdjust="spacingAndGlyphs" >4</text>
<text x="258.7" y="154.59" font-size="9" fill="#626262" text-anchor="end" textLength="4.75" lengthAdjust="spacingAndGlyphs" >6</text>
<text x="258.7" y="141.54" font-size="9" fill="#626262" text-anchor="end" textLength="4.75" lengthAdjust="spacingAndGlyphs" >8</text>
<text x="258.7" y="128.49" font-size="9" fill="#626262" text-anchor="end" textLength="9.51" lengthAdjust="spacingAndGlyphs" >10</text>
<text x="258.7" y="115.44" font-size="9" fill="#626262" text-anchor="end" textLength="9.51" lengthAdjust="spacingAndGlyphs" >12</text>
<text x="266.6" y="205.14" font-size="9" fill="#626262" text-anchor="middle" textLength="4.75" lengthAdjust="spacingAndGlyphs" >0</text>
<text x="296.47" y="205.14" font-size="9" fill="#626262" text-anchor="middle" textLength="4.75" lengthAdjust="spacingAndGlyphs" >2</text>
<text x="326.33" y="205.14" font-size="9" fill="#626262" text-anchor="middle" textLength="4.75" lengthAdjust="spacingAndGlyphs" >4</text>
<text x="356.2" y="205.14" font-size="9" fill="#626262" text-anchor="middle" textLength="4.75" lengthAdjust="spacingAndGlyphs" >6</text>
<text x="386.07" y="205.14" font-size="9" fill="#626262" text-anchor="middle" textLength="4.75" lengthAdjust="spacingAndGlyphs" >8</text>
<text x="415.93" y="205.14" font-size="9" fill="#626262" text-anchor="middle" textLength="9.51" lengthAdjust="spacingAndGlyphs" >10</text>
<text x="445.8" y="205.14" font-size="9" fill="#626262" text-anchor="middle" textLength="9.51" lengthAdjust="spacingAndGlyphs" >12</text>
<polyline points="266.6,185.5 280.3,185.5 282.5,182.5 299.1,181.5 300.9,178.5 308.8,175 345,161.8 426.9,131 429.5,119.6 431.3,119.6 433.9,120.8 445.3,121.3" fill="none" stroke="#111" stroke-width="1.5" stroke-linejoin="round"/>
<text x="240.02" y="106.05" font-size="11.2" fill="#222" textLength="15.76" lengthAdjust="spacing" >(ii)</text>
<text x="336.8" y="216.4" font-size="7.5" fill="#6a6a6a" font-weight="bold" textLength="38.1" lengthAdjust="spacingAndGlyphs" >time (min)</text>
<text x="247.8" y="151.25" font-size="7.5" fill="#6a6a6a" text-anchor="middle" font-weight="bold" textLength="60.3" lengthAdjust="spacingAndGlyphs" transform="rotate(-90 247.8 151.25)" >capacitance (nF)</text>
<path d="M500.5,108.5V186.5M506.5,108.5V186.5M512.5,108.5V186.5M518.5,108.5V186.5M530.5,108.5V186.5M536.5,108.5V186.5M542.5,108.5V186.5M548.5,108.5V186.5M560.5,108.5V186.5M566.5,108.5V186.5M572.5,108.5V186.5M578.5,108.5V186.5M589.5,108.5V186.5M595.5,108.5V186.5M601.5,108.5V186.5M607.5,108.5V186.5M619.5,108.5V186.5M625.5,108.5V186.5M631.5,108.5V186.5M637.5,108.5V186.5M649.5,108.5V186.5M655.5,108.5V186.5M661.5,108.5V186.5M667.5,108.5V186.5M494.5,183.5H673.5M494.5,180.5H673.5M494.5,177.5H673.5M494.5,173.5H673.5M494.5,167.5H673.5M494.5,164.5H673.5M494.5,161.5H673.5M494.5,158.5H673.5M494.5,151.5H673.5M494.5,148.5H673.5M494.5,145.5H673.5M494.5,142.5H673.5M494.5,136.5H673.5M494.5,133.5H673.5M494.5,130.5H673.5M494.5,126.5H673.5M494.5,120.5H673.5M494.5,117.5H673.5M494.5,114.5H673.5M494.5,111.5H673.5" stroke="#f1f1f1" stroke-width="1" fill="none"/>
<path d="M524.5,108.5V186.5M554.5,108.5V186.5M584.5,108.5V186.5M613.5,108.5V186.5M643.5,108.5V186.5M673.5,108.5V186.5M494.5,170.5H673.5M494.5,155.5H673.5M494.5,139.5H673.5M494.5,123.5H673.5M494.5,108.5H673.5" stroke="#d6d6d6" stroke-width="1" fill="none"/>
<path d="M494.5,108.5V186.5H673.5M491.5,186.5H494.5M491.5,170.5H494.5M491.5,155.5H494.5M491.5,139.5H494.5M491.5,123.5H494.5M491.5,108.5H494.5M494.5,186.5V189.5M524.5,186.5V189.5M554.5,186.5V189.5M584.5,186.5V189.5M613.5,186.5V189.5M643.5,186.5V189.5M673.5,186.5V189.5" stroke="#bcbcbc" stroke-width="1" fill="none"/>
<text x="486.4" y="189.64" font-size="9" fill="#626262" text-anchor="end" textLength="4.75" lengthAdjust="spacingAndGlyphs" >0</text>
<text x="486.4" y="174" font-size="9" fill="#626262" text-anchor="end" textLength="4.75" lengthAdjust="spacingAndGlyphs" >2</text>
<text x="486.4" y="158.36" font-size="9" fill="#626262" text-anchor="end" textLength="4.75" lengthAdjust="spacingAndGlyphs" >4</text>
<text x="486.4" y="142.72" font-size="9" fill="#626262" text-anchor="end" textLength="4.75" lengthAdjust="spacingAndGlyphs" >6</text>
<text x="486.4" y="127.08" font-size="9" fill="#626262" text-anchor="end" textLength="4.75" lengthAdjust="spacingAndGlyphs" >8</text>
<text x="486.4" y="111.44" font-size="9" fill="#626262" text-anchor="end" textLength="9.51" lengthAdjust="spacingAndGlyphs" >10</text>
<text x="494.6" y="200.54" font-size="9" fill="#626262" text-anchor="middle" textLength="4.75" lengthAdjust="spacingAndGlyphs" >0</text>
<text x="524.4" y="200.54" font-size="9" fill="#626262" text-anchor="middle" textLength="4.75" lengthAdjust="spacingAndGlyphs" >2</text>
<text x="554.2" y="200.54" font-size="9" fill="#626262" text-anchor="middle" textLength="4.75" lengthAdjust="spacingAndGlyphs" >4</text>
<text x="584" y="200.54" font-size="9" fill="#626262" text-anchor="middle" textLength="4.75" lengthAdjust="spacingAndGlyphs" >6</text>
<text x="613.8" y="200.54" font-size="9" fill="#626262" text-anchor="middle" textLength="4.75" lengthAdjust="spacingAndGlyphs" >8</text>
<text x="643.6" y="200.54" font-size="9" fill="#626262" text-anchor="middle" textLength="9.51" lengthAdjust="spacingAndGlyphs" >10</text>
<text x="673.4" y="200.54" font-size="9" fill="#626262" text-anchor="middle" textLength="9.51" lengthAdjust="spacingAndGlyphs" >12</text>
<polyline points="494.6,180.2 508.3,180.2 509.7,177.6 523.3,177.6 532.1,176.7 537.3,173.2 542.6,170.9 565,163.9 650.2,131.9 657.3,126.3 662.5,127.2 673.4,127.9" fill="none" stroke="#111" stroke-width="1.5" stroke-linejoin="round"/>
<text x="465.42" y="106.05" font-size="11.2" fill="#222" textLength="15.16" lengthAdjust="spacing" >(ii)</text>
<text x="552.6" y="213.1" font-size="7.5" fill="#6a6a6a" font-weight="bold" textLength="38.8" lengthAdjust="spacingAndGlyphs" >time (min)</text>
<text x="472.8" y="145.9" font-size="7.5" fill="#6a6a6a" text-anchor="middle" font-weight="bold" textLength="60.4" lengthAdjust="spacingAndGlyphs" transform="rotate(-90 472.8 145.9)" >capacitance (nF)</text>
<path d="M158.5,457.5V528.5M163.5,457.5V528.5M168.5,457.5V528.5M174.5,457.5V528.5M184.5,457.5V528.5M189.5,457.5V528.5M194.5,457.5V528.5M199.5,457.5V528.5M209.5,457.5V528.5M214.5,457.5V528.5M220.5,457.5V528.5M225.5,457.5V528.5M235.5,457.5V528.5M240.5,457.5V528.5M245.5,457.5V528.5M250.5,457.5V528.5M260.5,457.5V528.5M266.5,457.5V528.5M271.5,457.5V528.5M276.5,457.5V528.5M286.5,457.5V528.5M291.5,457.5V528.5M296.5,457.5V528.5M301.5,457.5V528.5M312.5,457.5V528.5M317.5,457.5V528.5M153.5,524.5H319.5M153.5,521.5H319.5M153.5,517.5H319.5M153.5,514.5H319.5M153.5,507.5H319.5M153.5,503.5H319.5M153.5,500.5H319.5M153.5,496.5H319.5M153.5,489.5H319.5M153.5,485.5H319.5M153.5,482.5H319.5M153.5,478.5H319.5M153.5,471.5H319.5M153.5,468.5H319.5M153.5,464.5H319.5M153.5,461.5H319.5" stroke="#f1f1f1" stroke-width="1" fill="none"/>
<path d="M179.5,457.5V528.5M204.5,457.5V528.5M230.5,457.5V528.5M255.5,457.5V528.5M281.5,457.5V528.5M307.5,457.5V528.5M153.5,510.5H319.5M153.5,493.5H319.5M153.5,475.5H319.5M153.5,457.5H319.5" stroke="#d6d6d6" stroke-width="1" fill="none"/>
<path d="M153.5,457.5V528.5H319.5M150.5,528.5H153.5M150.5,510.5H153.5M150.5,493.5H153.5M150.5,475.5H153.5M150.5,457.5H153.5M153.5,528.5V531.5M179.5,528.5V531.5M204.5,528.5V531.5M230.5,528.5V531.5M255.5,528.5V531.5M281.5,528.5V531.5M307.5,528.5V531.5" stroke="#bcbcbc" stroke-width="1" fill="none"/>
<text x="146.6" y="530.8" font-size="7.5" fill="#626262" text-anchor="end" textLength="3.96" lengthAdjust="spacingAndGlyphs" >0</text>
<text x="146.6" y="513.25" font-size="7.5" fill="#626262" text-anchor="end" textLength="3.96" lengthAdjust="spacingAndGlyphs" >2</text>
<text x="146.6" y="495.7" font-size="7.5" fill="#626262" text-anchor="end" textLength="3.96" lengthAdjust="spacingAndGlyphs" >4</text>
<text x="146.6" y="478.15" font-size="7.5" fill="#626262" text-anchor="end" textLength="3.96" lengthAdjust="spacingAndGlyphs" >6</text>
<text x="146.6" y="460.6" font-size="7.5" fill="#626262" text-anchor="end" textLength="3.96" lengthAdjust="spacingAndGlyphs" >8</text>
<text x="153.6" y="541.9" font-size="7.5" fill="#626262" text-anchor="middle" textLength="3.96" lengthAdjust="spacingAndGlyphs" >0</text>
<text x="179.17" y="541.9" font-size="7.5" fill="#626262" text-anchor="middle" textLength="3.96" lengthAdjust="spacingAndGlyphs" >2</text>
<text x="204.74" y="541.9" font-size="7.5" fill="#626262" text-anchor="middle" textLength="3.96" lengthAdjust="spacingAndGlyphs" >4</text>
<text x="230.31" y="541.9" font-size="7.5" fill="#626262" text-anchor="middle" textLength="3.96" lengthAdjust="spacingAndGlyphs" >6</text>
<text x="255.88" y="541.9" font-size="7.5" fill="#626262" text-anchor="middle" textLength="3.96" lengthAdjust="spacingAndGlyphs" >8</text>
<text x="281.45" y="541.9" font-size="7.5" fill="#626262" text-anchor="middle" textLength="7.92" lengthAdjust="spacingAndGlyphs" >10</text>
<text x="307.02" y="541.9" font-size="7.5" fill="#626262" text-anchor="middle" textLength="7.92" lengthAdjust="spacingAndGlyphs" >12</text>
<polyline points="153.6,521.3 166.3,521.3 166.8,519.4 186.1,519 190.5,516.4 197.5,514.6 206.3,511.5 220.3,506.7 230,501.8 254.8,490 270.6,482.1 290,474.6 304.9,467.2 308.4,466.3 318.9,466.7" fill="none" stroke="#111" stroke-width="1.5" stroke-linejoin="round"/>
<text x="118.82" y="452.15" font-size="11.2" fill="#222" textLength="15.16" lengthAdjust="spacing" >(ii)</text>
<text x="219.4" y="552.9" font-size="7.5" fill="#6a6a6a" font-weight="bold" textLength="34.1" lengthAdjust="spacingAndGlyphs" >time (min)</text>
<text x="138.3" y="493.1" font-size="7.5" fill="#6a6a6a" text-anchor="middle" font-weight="bold" textLength="54.2" lengthAdjust="spacingAndGlyphs" transform="rotate(-90 138.3 493.1)" >capacitance (nF)</text>
<path d="M396.5,460.5V532.5M402.5,460.5V532.5M408.5,460.5V532.5M414.5,460.5V532.5M426.5,460.5V532.5M431.5,460.5V532.5M437.5,460.5V532.5M443.5,460.5V532.5M455.5,460.5V532.5M461.5,460.5V532.5M467.5,460.5V532.5M473.5,460.5V532.5M485.5,460.5V532.5M491.5,460.5V532.5M497.5,460.5V532.5M503.5,460.5V532.5M514.5,460.5V532.5M520.5,460.5V532.5M526.5,460.5V532.5M532.5,460.5V532.5M544.5,460.5V532.5M550.5,460.5V532.5M390.5,529.5H553.5M390.5,526.5H553.5M390.5,523.5H553.5M390.5,520.5H553.5M390.5,514.5H553.5M390.5,512.5H553.5M390.5,509.5H553.5M390.5,506.5H553.5M390.5,500.5H553.5M390.5,497.5H553.5M390.5,494.5H553.5M390.5,491.5H553.5M390.5,486.5H553.5M390.5,483.5H553.5M390.5,480.5H553.5M390.5,477.5H553.5M390.5,471.5H553.5M390.5,468.5H553.5M390.5,465.5H553.5M390.5,463.5H553.5" stroke="#f1f1f1" stroke-width="1" fill="none"/>
<path d="M420.5,460.5V532.5M449.5,460.5V532.5M479.5,460.5V532.5M509.5,460.5V532.5M538.5,460.5V532.5M390.5,517.5H553.5M390.5,503.5H553.5M390.5,489.5H553.5M390.5,474.5H553.5M390.5,460.5H553.5" stroke="#d6d6d6" stroke-width="1" fill="none"/>
<path d="M390.5,460.5V532.5H553.5M387.5,532.5H390.5M387.5,517.5H390.5M387.5,503.5H390.5M387.5,489.5H390.5M387.5,474.5H390.5M387.5,460.5H390.5M390.5,532.5V535.5M420.5,532.5V535.5M449.5,532.5V535.5M479.5,532.5V535.5M509.5,532.5V535.5M538.5,532.5V535.5" stroke="#bcbcbc" stroke-width="1" fill="none"/>
<text x="383.1" y="534.9" font-size="7.5" fill="#626262" text-anchor="end" textLength="3.96" lengthAdjust="spacingAndGlyphs" >0</text>
<text x="383.1" y="520.5" font-size="7.5" fill="#626262" text-anchor="end" textLength="9.9" lengthAdjust="spacingAndGlyphs" >0.5</text>
<text x="383.1" y="506.1" font-size="7.5" fill="#626262" text-anchor="end" textLength="3.96" lengthAdjust="spacingAndGlyphs" >1</text>
<text x="383.1" y="491.7" font-size="7.5" fill="#626262" text-anchor="end" textLength="9.9" lengthAdjust="spacingAndGlyphs" >1.5</text>
<text x="383.1" y="477.3" font-size="7.5" fill="#626262" text-anchor="end" textLength="3.96" lengthAdjust="spacingAndGlyphs" >2</text>
<text x="383.1" y="462.9" font-size="7.5" fill="#626262" text-anchor="end" textLength="9.9" lengthAdjust="spacingAndGlyphs" >2.5</text>
<text x="390.5" y="545.4" font-size="7.5" fill="#626262" text-anchor="middle" textLength="3.96" lengthAdjust="spacingAndGlyphs" >0</text>
<text x="420.14" y="545.4" font-size="7.5" fill="#626262" text-anchor="middle" textLength="3.96" lengthAdjust="spacingAndGlyphs" >2</text>
<text x="449.77" y="545.4" font-size="7.5" fill="#626262" text-anchor="middle" textLength="3.96" lengthAdjust="spacingAndGlyphs" >4</text>
<text x="479.41" y="545.4" font-size="7.5" fill="#626262" text-anchor="middle" textLength="3.96" lengthAdjust="spacingAndGlyphs" >6</text>
<text x="509.05" y="545.4" font-size="7.5" fill="#626262" text-anchor="middle" textLength="3.96" lengthAdjust="spacingAndGlyphs" >8</text>
<text x="538.68" y="545.4" font-size="7.5" fill="#626262" text-anchor="middle" textLength="7.92" lengthAdjust="spacingAndGlyphs" >10</text>
<polyline points="390.5,509.3 404.5,509.3 405.6,505.3 413,505.8 415.6,505.3 421.7,505.3 425.2,502.3 455,496.2 497.1,487 505.9,483.5 521.7,480.4 528.7,477.7 536.6,471.6 542.8,471.2 553.3,470.2" fill="none" stroke="#111" stroke-width="1.5" stroke-linejoin="round"/>
<text x="350.02" y="452.15" font-size="11.2" fill="#222" textLength="15.76" lengthAdjust="spacing" >(ii)</text>
<text x="454.2" y="556.7" font-size="7.5" fill="#6a6a6a" font-weight="bold" textLength="35" lengthAdjust="spacingAndGlyphs" >time (min)</text>
<text x="368.3" y="496.65" font-size="7.5" fill="#6a6a6a" text-anchor="middle" font-weight="bold" textLength="55.9" lengthAdjust="spacingAndGlyphs" transform="rotate(-90 368.3 496.65)" >capacitance (nF)</text>
<path d="M73.5,225.5V306.5M100.5,225.5V306.5M126.5,225.5V306.5M153.5,225.5V306.5M180.5,225.5V306.5M46.5,283.5H180.5M46.5,260.5H180.5M46.5,237.5H180.5" stroke="#d6d6d6" stroke-width="1" fill="none"/>
<path d="M46.5,225.5V306.5H180.5M43.5,306.5H46.5M43.5,283.5H46.5M43.5,260.5H46.5M43.5,237.5H46.5M46.5,306.5V309.5M73.5,306.5V309.5M100.5,306.5V309.5M126.5,306.5V309.5M153.5,306.5V309.5M180.5,306.5V309.5" stroke="#bcbcbc" stroke-width="1" fill="none"/>
<text x="37.7" y="309.54" font-size="9" fill="#626262" text-anchor="end" textLength="9.51" lengthAdjust="spacingAndGlyphs" >15</text>
<text x="37.7" y="286.45" font-size="9" fill="#626262" text-anchor="end" textLength="9.51" lengthAdjust="spacingAndGlyphs" >25</text>
<text x="37.7" y="263.37" font-size="9" fill="#626262" text-anchor="end" textLength="9.51" lengthAdjust="spacingAndGlyphs" >35</text>
<text x="37.7" y="240.28" font-size="9" fill="#626262" text-anchor="end" textLength="9.51" lengthAdjust="spacingAndGlyphs" >45</text>
<text x="46.5" y="323.04" font-size="9" fill="#626262" text-anchor="middle" textLength="4.75" lengthAdjust="spacingAndGlyphs" >3</text>
<text x="73.28" y="323.04" font-size="9" fill="#626262" text-anchor="middle" textLength="4.75" lengthAdjust="spacingAndGlyphs" >6</text>
<text x="100.06" y="323.04" font-size="9" fill="#626262" text-anchor="middle" textLength="4.75" lengthAdjust="spacingAndGlyphs" >9</text>
<text x="126.84" y="323.04" font-size="9" fill="#626262" text-anchor="middle" textLength="9.51" lengthAdjust="spacingAndGlyphs" >12</text>
<text x="153.62" y="323.04" font-size="9" fill="#626262" text-anchor="middle" textLength="9.51" lengthAdjust="spacingAndGlyphs" >15</text>
<text x="180.4" y="323.04" font-size="9" fill="#626262" text-anchor="middle" textLength="9.51" lengthAdjust="spacingAndGlyphs" >18</text>
<path d="M180.5,225.5V306.5M180.5,306.5H183.5M180.5,293.5H183.5M180.5,279.5H183.5M180.5,266.5H183.5M180.5,252.5H183.5M180.5,239.5H183.5M180.5,225.5H183.5" stroke="#bcbcbc" stroke-width="1" fill="none"/>
<text x="189.6" y="309.54" font-size="9" fill="#626262" textLength="14.26" lengthAdjust="spacingAndGlyphs" >400</text>
<text x="189.6" y="296.07" font-size="9" fill="#626262" textLength="14.26" lengthAdjust="spacingAndGlyphs" >500</text>
<text x="189.6" y="282.61" font-size="9" fill="#626262" textLength="14.26" lengthAdjust="spacingAndGlyphs" >600</text>
<text x="189.6" y="269.14" font-size="9" fill="#626262" textLength="14.26" lengthAdjust="spacingAndGlyphs" >700</text>
<text x="189.6" y="255.67" font-size="9" fill="#626262" textLength="14.26" lengthAdjust="spacingAndGlyphs" >800</text>
<text x="189.6" y="242.21" font-size="9" fill="#626262" textLength="14.26" lengthAdjust="spacingAndGlyphs" >900</text>
<text x="189.6" y="228.74" font-size="9" fill="#626262" textLength="19.02" lengthAdjust="spacingAndGlyphs" >1000</text>
<polyline points="46.4,273.9 55.8,273.9 64.8,266.6 73.6,271 82,271.3 90.2,275 100.1,274.8 109.5,282 118.8,280.3 126.9,280.6 134.5,288.8 143.9,287.9 153.6,290.2 162.3,280.3 171.3,297.2 180,297.2" fill="none" stroke="#7f7f7f" stroke-width="1.2" stroke-linejoin="round" stroke-dasharray="3.2,1.8"/>
<polyline points="56.1,268.6 64.8,273.6 73.6,268.3 82,271.5 91.4,278 100.1,278 109.5,277.1 118.2,281.8 126.9,284.1 135.7,285.9 143.9,288.1 153.6,295.8 162.3,278.5 171.3,286.7 180.4,266.3" fill="none" stroke="#111" stroke-width="1.8" stroke-linejoin="round"/>
<text x="7.42" y="219.95" font-size="11.2" fill="#222" textLength="18.26" lengthAdjust="spacing" >(iii)</text>
<text x="22.5" y="266.5" font-size="9" fill="#777" text-anchor="middle" textLength="77" lengthAdjust="spacingAndGlyphs" transform="rotate(-90 22.5 266.5)" >flow rate (nL / min)</text>
<text x="219.6" y="267.5" font-size="9" fill="#626262" text-anchor="middle" font-weight="bold" textLength="33" lengthAdjust="spacingAndGlyphs" transform="rotate(-90 219.6 267.5)" >pF / min</text>
<path d="M280.5,230.5V309.5M287.5,230.5V309.5M293.5,230.5V309.5M300.5,230.5V309.5M313.5,230.5V309.5M319.5,230.5V309.5M326.5,230.5V309.5M332.5,230.5V309.5M345.5,230.5V309.5M352.5,230.5V309.5M358.5,230.5V309.5M365.5,230.5V309.5M378.5,230.5V309.5M384.5,230.5V309.5M391.5,230.5V309.5M397.5,230.5V309.5M274.5,305.5H404.5M274.5,301.5H404.5M274.5,297.5H404.5M274.5,293.5H404.5M274.5,285.5H404.5M274.5,281.5H404.5M274.5,277.5H404.5M274.5,273.5H404.5M274.5,265.5H404.5M274.5,261.5H404.5M274.5,257.5H404.5M274.5,254.5H404.5M274.5,246.5H404.5M274.5,242.5H404.5M274.5,238.5H404.5M274.5,234.5H404.5" stroke="#f1f1f1" stroke-width="1" fill="none"/>
<path d="M306.5,230.5V309.5M339.5,230.5V309.5M371.5,230.5V309.5M404.5,230.5V309.5M274.5,289.5H404.5M274.5,269.5H404.5M274.5,250.5H404.5M274.5,230.5H404.5" stroke="#d6d6d6" stroke-width="1" fill="none"/>
<path d="M274.5,230.5V309.5H404.5M271.5,309.5H274.5M271.5,289.5H274.5M271.5,269.5H274.5M271.5,250.5H274.5M271.5,230.5H274.5M274.5,309.5V312.5M306.5,309.5V312.5M339.5,309.5V312.5M371.5,309.5V312.5M404.5,309.5V312.5" stroke="#bcbcbc" stroke-width="1" fill="none"/>
<text x="265.2" y="311.85" font-size="9.3" fill="#626262" text-anchor="end" textLength="9.82" lengthAdjust="spacingAndGlyphs" >40</text>
<text x="265.2" y="292.07" font-size="9.3" fill="#626262" text-anchor="end" textLength="9.82" lengthAdjust="spacingAndGlyphs" >45</text>
<text x="265.2" y="272.3" font-size="9.3" fill="#626262" text-anchor="end" textLength="9.82" lengthAdjust="spacingAndGlyphs" >50</text>
<text x="265.2" y="252.52" font-size="9.3" fill="#626262" text-anchor="end" textLength="9.82" lengthAdjust="spacingAndGlyphs" >55</text>
<text x="265.2" y="232.75" font-size="9.3" fill="#626262" text-anchor="end" textLength="9.82" lengthAdjust="spacingAndGlyphs" >60</text>
<text x="274" y="325.45" font-size="9.3" fill="#626262" text-anchor="middle" textLength="4.91" lengthAdjust="spacingAndGlyphs" >2</text>
<text x="306.55" y="325.45" font-size="9.3" fill="#626262" text-anchor="middle" textLength="4.91" lengthAdjust="spacingAndGlyphs" >4</text>
<text x="339.1" y="325.45" font-size="9.3" fill="#626262" text-anchor="middle" textLength="4.91" lengthAdjust="spacingAndGlyphs" >6</text>
<text x="371.65" y="325.45" font-size="9.3" fill="#626262" text-anchor="middle" textLength="4.91" lengthAdjust="spacingAndGlyphs" >8</text>
<text x="404.2" y="325.45" font-size="9.3" fill="#626262" text-anchor="middle" textLength="9.82" lengthAdjust="spacingAndGlyphs" >10</text>
<path d="M404.5,230.5V309.5M404.5,309.5H407.5M404.5,293.5H407.5M404.5,277.5H407.5M404.5,261.5H407.5M404.5,246.5H407.5M404.5,230.5H407.5" stroke="#bcbcbc" stroke-width="1" fill="none"/>
<text x="413.3" y="311.85" font-size="9.3" fill="#626262" textLength="14.74" lengthAdjust="spacingAndGlyphs" >400</text>
<text x="413.3" y="296.03" font-size="9.3" fill="#626262" textLength="14.74" lengthAdjust="spacingAndGlyphs" >600</text>
<text x="413.3" y="280.21" font-size="9.3" fill="#626262" textLength="14.74" lengthAdjust="spacingAndGlyphs" >800</text>
<text x="413.3" y="264.39" font-size="9.3" fill="#626262" textLength="19.65" lengthAdjust="spacingAndGlyphs" >1000</text>
<text x="413.3" y="248.57" font-size="9.3" fill="#626262" textLength="19.65" lengthAdjust="spacingAndGlyphs" >1200</text>
<text x="413.3" y="232.75" font-size="9.3" fill="#626262" textLength="19.65" lengthAdjust="spacingAndGlyphs" >1400</text>
<polyline points="289.9,272.7 306.7,274.2 323.8,274.9 339.3,272.3 355.1,274.1 371.6,275.4 388,280 404.1,274.1" fill="none" stroke="#7f7f7f" stroke-width="1.2" stroke-linejoin="round" stroke-dasharray="3.2,1.8"/>
<polyline points="289.9,258.1 306.7,285.5 323.8,274.5 339.3,269 355.1,274.1 371.6,276.3 388,273 404.1,275" fill="none" stroke="#111" stroke-width="1.8" stroke-linejoin="round"/>
<text x="240.22" y="219.95" font-size="11.2" fill="#222" textLength="18.36" lengthAdjust="spacing" >(iii)</text>
<text x="251" y="270.45" font-size="9" fill="#777" text-anchor="middle" textLength="75.9" lengthAdjust="spacingAndGlyphs" transform="rotate(-90 251 270.45)" >flow rate (nL / min)</text>
<text x="445.2" y="269.5" font-size="9" fill="#626262" text-anchor="middle" font-weight="bold" textLength="32" lengthAdjust="spacingAndGlyphs" transform="rotate(-90 445.2 269.5)" >pF / min</text>
<path d="M535.5,229.5V309.5M569.5,229.5V309.5M603.5,229.5V309.5M637.5,229.5V309.5M501.5,289.5H637.5M501.5,269.5H637.5M501.5,249.5H637.5M501.5,229.5H637.5" stroke="#d6d6d6" stroke-width="1" fill="none"/>
<path d="M501.5,229.5V309.5H637.5M498.5,309.5H501.5M498.5,289.5H501.5M498.5,269.5H501.5M498.5,249.5H501.5M498.5,229.5H501.5M501.5,309.5V312.5M535.5,309.5V312.5M569.5,309.5V312.5M603.5,309.5V312.5M637.5,309.5V312.5" stroke="#bcbcbc" stroke-width="1" fill="none"/>
<text x="493" y="311.85" font-size="9.3" fill="#626262" text-anchor="end" textLength="9.82" lengthAdjust="spacingAndGlyphs" >40</text>
<text x="493" y="291.85" font-size="9.3" fill="#626262" text-anchor="end" textLength="9.82" lengthAdjust="spacingAndGlyphs" >45</text>
<text x="493" y="271.85" font-size="9.3" fill="#626262" text-anchor="end" textLength="9.82" lengthAdjust="spacingAndGlyphs" >50</text>
<text x="493" y="251.85" font-size="9.3" fill="#626262" text-anchor="end" textLength="9.82" lengthAdjust="spacingAndGlyphs" >55</text>
<text x="493" y="231.85" font-size="9.3" fill="#626262" text-anchor="end" textLength="9.82" lengthAdjust="spacingAndGlyphs" >60</text>
<text x="501.7" y="325.45" font-size="9.3" fill="#626262" text-anchor="middle" textLength="4.91" lengthAdjust="spacingAndGlyphs" >2</text>
<text x="535.58" y="325.45" font-size="9.3" fill="#626262" text-anchor="middle" textLength="4.91" lengthAdjust="spacingAndGlyphs" >4</text>
<text x="569.45" y="325.45" font-size="9.3" fill="#626262" text-anchor="middle" textLength="4.91" lengthAdjust="spacingAndGlyphs" >6</text>
<text x="603.33" y="325.45" font-size="9.3" fill="#626262" text-anchor="middle" textLength="4.91" lengthAdjust="spacingAndGlyphs" >8</text>
<text x="637.2" y="325.45" font-size="9.3" fill="#626262" text-anchor="middle" textLength="9.82" lengthAdjust="spacingAndGlyphs" >10</text>
<path d="M637.5,229.5V309.5M637.5,309.5H640.5M637.5,293.5H640.5M637.5,277.5H640.5M637.5,261.5H640.5M637.5,245.5H640.5M637.5,229.5H640.5" stroke="#bcbcbc" stroke-width="1" fill="none"/>
<text x="646" y="311.85" font-size="9.3" fill="#626262" textLength="14.74" lengthAdjust="spacingAndGlyphs" >400</text>
<text x="646" y="295.85" font-size="9.3" fill="#626262" textLength="14.74" lengthAdjust="spacingAndGlyphs" >500</text>
<text x="646" y="279.85" font-size="9.3" fill="#626262" textLength="14.74" lengthAdjust="spacingAndGlyphs" >600</text>
<text x="646" y="263.85" font-size="9.3" fill="#626262" textLength="14.74" lengthAdjust="spacingAndGlyphs" >700</text>
<text x="646" y="247.85" font-size="9.3" fill="#626262" textLength="14.74" lengthAdjust="spacingAndGlyphs" >800</text>
<text x="646" y="231.85" font-size="9.3" fill="#626262" textLength="14.74" lengthAdjust="spacingAndGlyphs" >900</text>
<polyline points="518.2,257.7 535.4,259 552.4,254 569.5,263.2 586.5,253 603.4,267.2 620.4,262.1 637.2,273.1" fill="none" stroke="#7f7f7f" stroke-width="1.2" stroke-linejoin="round" stroke-dasharray="3.2,1.8"/>
<polyline points="518.2,259 535.4,271.8 552.4,260.3 569.5,261.4 586.5,254.8 603.4,264.5 620.4,267.2" fill="none" stroke="#111" stroke-width="1.8" stroke-linejoin="round"/>
<text x="465.62" y="219.95" font-size="11.2" fill="#222" textLength="18.46" lengthAdjust="spacing" >(iii)</text>
<text x="477.9" y="269.05" font-size="9" fill="#777" text-anchor="middle" textLength="71.3" lengthAdjust="spacingAndGlyphs" transform="rotate(-90 477.9 269.05)" >flow rate (nL/min)</text>
<text x="673" y="268.6" font-size="9" fill="#626262" text-anchor="middle" font-weight="bold" textLength="28.4" lengthAdjust="spacingAndGlyphs" transform="rotate(-90 673 268.6)" >pF/min</text>
<path d="M162.5,566.5V649.5M167.5,566.5V649.5M172.5,566.5V649.5M178.5,566.5V649.5M189.5,566.5V649.5M194.5,566.5V649.5M199.5,566.5V649.5M205.5,566.5V649.5M216.5,566.5V649.5M221.5,566.5V649.5M226.5,566.5V649.5M232.5,566.5V649.5M243.5,566.5V649.5M248.5,566.5V649.5M253.5,566.5V649.5M259.5,566.5V649.5M270.5,566.5V649.5M275.5,566.5V649.5M280.5,566.5V649.5M286.5,566.5V649.5M156.5,646.5H291.5M156.5,643.5H291.5M156.5,641.5H291.5M156.5,638.5H291.5M156.5,632.5H291.5M156.5,630.5H291.5M156.5,627.5H291.5M156.5,624.5H291.5M156.5,619.5H291.5M156.5,616.5H291.5M156.5,613.5H291.5M156.5,610.5H291.5M156.5,605.5H291.5M156.5,602.5H291.5M156.5,599.5H291.5M156.5,597.5H291.5M156.5,591.5H291.5M156.5,588.5H291.5M156.5,586.5H291.5M156.5,583.5H291.5M156.5,577.5H291.5M156.5,575.5H291.5M156.5,572.5H291.5M156.5,569.5H291.5" stroke="#f1f1f1" stroke-width="1" fill="none"/>
<path d="M183.5,566.5V649.5M210.5,566.5V649.5M237.5,566.5V649.5M264.5,566.5V649.5M291.5,566.5V649.5M156.5,635.5H291.5M156.5,621.5H291.5M156.5,608.5H291.5M156.5,594.5H291.5M156.5,580.5H291.5M156.5,566.5H291.5" stroke="#d6d6d6" stroke-width="1" fill="none"/>
<path d="M156.5,566.5V649.5H291.5M153.5,649.5H156.5M153.5,635.5H156.5M153.5,621.5H156.5M153.5,608.5H156.5M153.5,594.5H156.5M153.5,580.5H156.5M153.5,566.5H156.5M156.5,649.5V652.5M183.5,649.5V652.5M210.5,649.5V652.5M237.5,649.5V652.5M264.5,649.5V652.5M291.5,649.5V652.5" stroke="#bcbcbc" stroke-width="1" fill="none"/>
<text x="148.3" y="652.75" font-size="9.3" fill="#626262" text-anchor="end" textLength="9.82" lengthAdjust="spacingAndGlyphs" >10</text>
<text x="148.3" y="639" font-size="9.3" fill="#626262" text-anchor="end" textLength="9.82" lengthAdjust="spacingAndGlyphs" >20</text>
<text x="148.3" y="625.25" font-size="9.3" fill="#626262" text-anchor="end" textLength="9.82" lengthAdjust="spacingAndGlyphs" >30</text>
<text x="148.3" y="611.5" font-size="9.3" fill="#626262" text-anchor="end" textLength="9.82" lengthAdjust="spacingAndGlyphs" >40</text>
<text x="148.3" y="597.75" font-size="9.3" fill="#626262" text-anchor="end" textLength="9.82" lengthAdjust="spacingAndGlyphs" >50</text>
<text x="148.3" y="584" font-size="9.3" fill="#626262" text-anchor="end" textLength="9.82" lengthAdjust="spacingAndGlyphs" >60</text>
<text x="148.3" y="570.25" font-size="9.3" fill="#626262" text-anchor="end" textLength="9.82" lengthAdjust="spacingAndGlyphs" >70</text>
<text x="156.8" y="665.45" font-size="9.3" fill="#626262" text-anchor="middle" textLength="4.91" lengthAdjust="spacingAndGlyphs" >2</text>
<text x="183.78" y="665.45" font-size="9.3" fill="#626262" text-anchor="middle" textLength="4.91" lengthAdjust="spacingAndGlyphs" >4</text>
<text x="210.76" y="665.45" font-size="9.3" fill="#626262" text-anchor="middle" textLength="4.91" lengthAdjust="spacingAndGlyphs" >6</text>
<text x="237.74" y="665.45" font-size="9.3" fill="#626262" text-anchor="middle" textLength="4.91" lengthAdjust="spacingAndGlyphs" >8</text>
<text x="264.72" y="665.45" font-size="9.3" fill="#626262" text-anchor="middle" textLength="9.82" lengthAdjust="spacingAndGlyphs" >10</text>
<text x="291.7" y="665.45" font-size="9.3" fill="#626262" text-anchor="middle" textLength="9.82" lengthAdjust="spacingAndGlyphs" >12</text>
<path d="M291.5,566.5V649.5M291.5,649.5H294.5M291.5,628.5H294.5M291.5,608.5H294.5M291.5,587.5H294.5M291.5,566.5H294.5" stroke="#bcbcbc" stroke-width="1" fill="none"/>
<text x="301.1" y="652.75" font-size="9.3" fill="#626262" textLength="14.74" lengthAdjust="spacingAndGlyphs" >200</text>
<text x="301.1" y="632.12" font-size="9.3" fill="#626262" textLength="14.74" lengthAdjust="spacingAndGlyphs" >400</text>
<text x="301.1" y="611.5" font-size="9.3" fill="#626262" textLength="14.74" lengthAdjust="spacingAndGlyphs" >600</text>
<text x="301.1" y="590.87" font-size="9.3" fill="#626262" textLength="14.74" lengthAdjust="spacingAndGlyphs" >800</text>
<text x="301.1" y="570.25" font-size="9.3" fill="#626262" textLength="19.65" lengthAdjust="spacingAndGlyphs" >1000</text>
<polyline points="169.9,629.2 183.3,595 196.9,593.5 210.2,595.7 224.3,601.7 237.4,605.9 250.7,606.6 264.5,605.3 278.6,601.7" fill="none" stroke="#7f7f7f" stroke-width="1.2" stroke-linejoin="round" stroke-dasharray="3.2,1.8"/>
<polyline points="169.9,631.5 183.3,615.4 196.9,596.8 210.2,600.4 223.9,593.2 237.4,602.2 250.7,603 264.5,616.3 278.6,594.9" fill="none" stroke="#111" stroke-width="1.8" stroke-linejoin="round"/>
<text x="118.92" y="563.65" font-size="11.2" fill="#222" textLength="17.86" lengthAdjust="spacing" >(iii)</text>
<text x="132.3" y="608.55" font-size="9" fill="#777" text-anchor="middle" textLength="77.9" lengthAdjust="spacingAndGlyphs" transform="rotate(-90 132.3 608.55)" >flow rate (nL / min)</text>
<text x="333" y="607.45" font-size="9" fill="#626262" text-anchor="middle" font-weight="bold" textLength="33.5" lengthAdjust="spacingAndGlyphs" transform="rotate(-90 333 607.45)" >pF / min</text>
<path d="M396.5,570.5V648.5M403.5,570.5V648.5M409.5,570.5V648.5M416.5,570.5V648.5M429.5,570.5V648.5M436.5,570.5V648.5M442.5,570.5V648.5M449.5,570.5V648.5M462.5,570.5V648.5M469.5,570.5V648.5M476.5,570.5V648.5M482.5,570.5V648.5M496.5,570.5V648.5M502.5,570.5V648.5M509.5,570.5V648.5M516.5,570.5V648.5M389.5,644.5H522.5M389.5,640.5H522.5M389.5,637.5H522.5M389.5,633.5H522.5M389.5,625.5H522.5M389.5,621.5H522.5M389.5,617.5H522.5M389.5,613.5H522.5M389.5,605.5H522.5M389.5,601.5H522.5M389.5,597.5H522.5M389.5,594.5H522.5M389.5,586.5H522.5M389.5,582.5H522.5M389.5,578.5H522.5M389.5,574.5H522.5" stroke="#f1f1f1" stroke-width="1" fill="none"/>
<path d="M423.5,570.5V648.5M456.5,570.5V648.5M489.5,570.5V648.5M522.5,570.5V648.5M389.5,629.5H522.5M389.5,609.5H522.5M389.5,590.5H522.5M389.5,570.5H522.5" stroke="#d6d6d6" stroke-width="1" fill="none"/>
<path d="M389.5,570.5V648.5H522.5M386.5,648.5H389.5M386.5,629.5H389.5M386.5,609.5H389.5M386.5,590.5H389.5M386.5,570.5H389.5M389.5,648.5V651.5M423.5,648.5V651.5M456.5,648.5V651.5M489.5,648.5V651.5M522.5,648.5V651.5" stroke="#bcbcbc" stroke-width="1" fill="none"/>
<text x="381.3" y="651.25" font-size="9.3" fill="#626262" text-anchor="end" textLength="9.82" lengthAdjust="spacingAndGlyphs" >50</text>
<text x="381.3" y="631.7" font-size="9.3" fill="#626262" text-anchor="end" textLength="9.82" lengthAdjust="spacingAndGlyphs" >55</text>
<text x="381.3" y="612.15" font-size="9.3" fill="#626262" text-anchor="end" textLength="9.82" lengthAdjust="spacingAndGlyphs" >60</text>
<text x="381.3" y="592.6" font-size="9.3" fill="#626262" text-anchor="end" textLength="9.82" lengthAdjust="spacingAndGlyphs" >65</text>
<text x="381.3" y="573.05" font-size="9.3" fill="#626262" text-anchor="end" textLength="9.82" lengthAdjust="spacingAndGlyphs" >70</text>
<text x="389.8" y="664.15" font-size="9.3" fill="#626262" text-anchor="middle" textLength="4.91" lengthAdjust="spacingAndGlyphs" >2</text>
<text x="423.03" y="664.15" font-size="9.3" fill="#626262" text-anchor="middle" textLength="4.91" lengthAdjust="spacingAndGlyphs" >4</text>
<text x="456.25" y="664.15" font-size="9.3" fill="#626262" text-anchor="middle" textLength="4.91" lengthAdjust="spacingAndGlyphs" >6</text>
<text x="489.48" y="664.15" font-size="9.3" fill="#626262" text-anchor="middle" textLength="4.91" lengthAdjust="spacingAndGlyphs" >8</text>
<text x="522.7" y="664.15" font-size="9.3" fill="#626262" text-anchor="middle" textLength="9.82" lengthAdjust="spacingAndGlyphs" >10</text>
<path d="M522.5,570.5V648.5M522.5,648.5H525.5M522.5,630.5H525.5M522.5,613.5H525.5M522.5,595.5H525.5M522.5,577.5H525.5" stroke="#bcbcbc" stroke-width="1" fill="none"/>
<text x="531.5" y="651.25" font-size="9.3" fill="#626262" textLength="4.91" lengthAdjust="spacingAndGlyphs" >0</text>
<text x="531.5" y="633.37" font-size="9.3" fill="#626262" textLength="9.82" lengthAdjust="spacingAndGlyphs" >50</text>
<text x="531.5" y="615.5" font-size="9.3" fill="#626262" textLength="14.74" lengthAdjust="spacingAndGlyphs" >100</text>
<text x="531.5" y="597.62" font-size="9.3" fill="#626262" textLength="14.74" lengthAdjust="spacingAndGlyphs" >150</text>
<text x="531.5" y="579.75" font-size="9.3" fill="#626262" textLength="14.74" lengthAdjust="spacingAndGlyphs" >200</text>
<polyline points="406.2,618.7 422.7,588.9 439.2,604.4 455.7,605.4 472.8,611.4 489.4,602.2 505.9,627.8" fill="none" stroke="#7f7f7f" stroke-width="1.2" stroke-linejoin="round" stroke-dasharray="3.2,1.8"/>
<polyline points="406.2,593.5 422.7,606.3 439.2,606.3 455.7,613.6 472.8,613.9 489.4,588.3 505.9,609.5" fill="none" stroke="#111" stroke-width="1.8" stroke-linejoin="round"/>
<text x="350.02" y="563.85" font-size="11.2" fill="#222" textLength="18.36" lengthAdjust="spacing" >(iii)</text>
<text x="366.4" y="610.4" font-size="9" fill="#777" text-anchor="middle" textLength="74.2" lengthAdjust="spacingAndGlyphs" transform="rotate(-90 366.4 610.4)" >flow rate (nL / min)</text>
<text x="557" y="609" font-size="9" fill="#626262" text-anchor="middle" font-weight="bold" textLength="33" lengthAdjust="spacingAndGlyphs" transform="rotate(-90 557 609)" >pF / min</text>
<line x1="173.6" y1="285.3" x2="178.5" y2="285.3" stroke="#111" stroke-width="1.6"/>
<polygon points="177.5,283.3 181.3,285.3 177.5,287.3" fill="#111"/>
<line x1="573.4" y1="596.6" x2="593.9" y2="596.6" stroke="#8a8a8a" stroke-width="1.4" stroke-dasharray="2.2,1.3"/>
<line x1="573.4" y1="637.1" x2="593.9" y2="637.1" stroke="#111" stroke-width="2"/>
<text x="596.2" y="591.3" font-size="13.1" fill="#111" >image</text>
<text x="596.2" y="607.4" font-size="13.1" fill="#111" >processing</text>
<text x="596.2" y="632.8" font-size="13.1" fill="#111" >capacitance</text>
<text x="596.2" y="649.1" font-size="13.1" fill="#111" >measurements</text>
</svg>
</body></html>
